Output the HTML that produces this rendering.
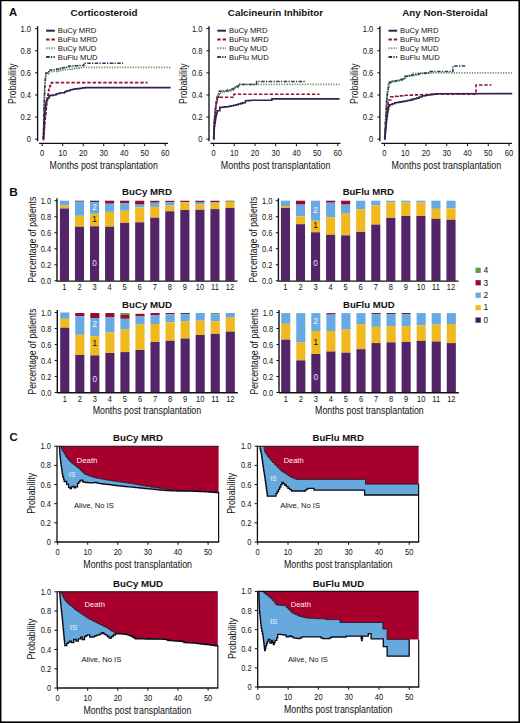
<!DOCTYPE html>
<html><head><meta charset="utf-8"><title>Figure</title>
<style>
html,body{margin:0;padding:0;background:#fff;}
body{width:520px;height:723px;overflow:hidden;}
svg{display:block;font-family:"Liberation Sans", sans-serif;}
</style></head><body>
<svg width="520" height="723" viewBox="0 0 520 723" font-family='"Liberation Sans", sans-serif'>
<rect x="0" y="0" width="520" height="723" fill="#fff"/>
<text x="9" y="15.6" font-size="11.3" font-weight="bold" fill="#111">A</text>
<text x="104.1" y="15.5" font-size="9.8" text-anchor="middle" font-weight="bold" fill="#111">Corticosteroid</text>
<line x1="37.6" y1="26.2" x2="37.6" y2="141.2" stroke="#111" stroke-width="1.35"/>
<line x1="35.0" y1="139.2" x2="37.6" y2="139.2" stroke="#111" stroke-width="1.0"/>
<text x="31.0" y="142.2" font-size="8.6" text-anchor="end" textLength="4.21" lengthAdjust="spacingAndGlyphs" fill="#111">0</text>
<line x1="35.0" y1="117.07999999999998" x2="37.6" y2="117.07999999999998" stroke="#111" stroke-width="1.0"/>
<text x="31.0" y="120.07999999999998" font-size="8.6" text-anchor="end" textLength="10.52" lengthAdjust="spacingAndGlyphs" fill="#111">0.2</text>
<line x1="35.0" y1="94.95999999999998" x2="37.6" y2="94.95999999999998" stroke="#111" stroke-width="1.0"/>
<text x="31.0" y="97.95999999999998" font-size="8.6" text-anchor="end" textLength="10.52" lengthAdjust="spacingAndGlyphs" fill="#111">0.4</text>
<line x1="35.0" y1="72.83999999999999" x2="37.6" y2="72.83999999999999" stroke="#111" stroke-width="1.0"/>
<text x="31.0" y="75.83999999999999" font-size="8.6" text-anchor="end" textLength="10.52" lengthAdjust="spacingAndGlyphs" fill="#111">0.6</text>
<line x1="35.0" y1="50.719999999999985" x2="37.6" y2="50.719999999999985" stroke="#111" stroke-width="1.0"/>
<text x="31.0" y="53.719999999999985" font-size="8.6" text-anchor="end" textLength="10.52" lengthAdjust="spacingAndGlyphs" fill="#111">0.8</text>
<line x1="35.0" y1="28.599999999999994" x2="37.6" y2="28.599999999999994" stroke="#111" stroke-width="1.0"/>
<text x="31.0" y="31.599999999999994" font-size="8.6" text-anchor="end" textLength="10.52" lengthAdjust="spacingAndGlyphs" fill="#111">1.0</text>
<line x1="39.1" y1="143.3" x2="168.0" y2="143.3" stroke="#111" stroke-width="1.35"/>
<line x1="42.2" y1="143.3" x2="42.2" y2="146.10000000000002" stroke="#111" stroke-width="1.0"/>
<text x="42.2" y="156.4" font-size="8.6" text-anchor="middle" textLength="4.21" lengthAdjust="spacingAndGlyphs" fill="#111">0</text>
<line x1="62.7" y1="143.3" x2="62.7" y2="146.10000000000002" stroke="#111" stroke-width="1.0"/>
<text x="62.7" y="156.4" font-size="8.6" text-anchor="middle" textLength="8.42" lengthAdjust="spacingAndGlyphs" fill="#111">10</text>
<line x1="83.2" y1="143.3" x2="83.2" y2="146.10000000000002" stroke="#111" stroke-width="1.0"/>
<text x="83.2" y="156.4" font-size="8.6" text-anchor="middle" textLength="8.42" lengthAdjust="spacingAndGlyphs" fill="#111">20</text>
<line x1="103.7" y1="143.3" x2="103.7" y2="146.10000000000002" stroke="#111" stroke-width="1.0"/>
<text x="103.7" y="156.4" font-size="8.6" text-anchor="middle" textLength="8.42" lengthAdjust="spacingAndGlyphs" fill="#111">30</text>
<line x1="124.2" y1="143.3" x2="124.2" y2="146.10000000000002" stroke="#111" stroke-width="1.0"/>
<text x="124.2" y="156.4" font-size="8.6" text-anchor="middle" textLength="8.42" lengthAdjust="spacingAndGlyphs" fill="#111">40</text>
<line x1="144.7" y1="143.3" x2="144.7" y2="146.10000000000002" stroke="#111" stroke-width="1.0"/>
<text x="144.7" y="156.4" font-size="8.6" text-anchor="middle" textLength="8.42" lengthAdjust="spacingAndGlyphs" fill="#111">50</text>
<line x1="165.2" y1="143.3" x2="165.2" y2="146.10000000000002" stroke="#111" stroke-width="1.0"/>
<text x="165.2" y="156.4" font-size="8.6" text-anchor="middle" textLength="8.42" lengthAdjust="spacingAndGlyphs" fill="#111">60</text>
<text x="103.7" y="168.9" font-size="10.0" text-anchor="middle" textLength="108.2" lengthAdjust="spacingAndGlyphs" fill="#111">Months post transplantation</text>
<text x="15.8" y="83.6" font-size="10.0" text-anchor="middle" textLength="40.6" lengthAdjust="spacingAndGlyphs" transform="rotate(-90 15.8 83.6)" fill="#111">Probability</text>
<text x="57.8" y="33.4" font-size="7.7" fill="#111">BuCy MRD</text>
<text x="57.8" y="42.150000000000006" font-size="7.7" fill="#111">BuFlu MRD</text>
<text x="57.8" y="50.900000000000006" font-size="7.7" fill="#111">BuCy MUD</text>
<text x="57.8" y="59.650000000000006" font-size="7.7" fill="#111">BuFlu MUD</text>
<text x="275.5" y="15.5" font-size="9.8" text-anchor="middle" font-weight="bold" fill="#111">Calcineurin Inhibitor</text>
<line x1="209.0" y1="26.2" x2="209.0" y2="141.2" stroke="#111" stroke-width="1.35"/>
<line x1="206.4" y1="139.2" x2="209.0" y2="139.2" stroke="#111" stroke-width="1.0"/>
<text x="202.4" y="142.2" font-size="8.6" text-anchor="end" textLength="4.21" lengthAdjust="spacingAndGlyphs" fill="#111">0</text>
<line x1="206.4" y1="117.07999999999998" x2="209.0" y2="117.07999999999998" stroke="#111" stroke-width="1.0"/>
<text x="202.4" y="120.07999999999998" font-size="8.6" text-anchor="end" textLength="10.52" lengthAdjust="spacingAndGlyphs" fill="#111">0.2</text>
<line x1="206.4" y1="94.95999999999998" x2="209.0" y2="94.95999999999998" stroke="#111" stroke-width="1.0"/>
<text x="202.4" y="97.95999999999998" font-size="8.6" text-anchor="end" textLength="10.52" lengthAdjust="spacingAndGlyphs" fill="#111">0.4</text>
<line x1="206.4" y1="72.83999999999999" x2="209.0" y2="72.83999999999999" stroke="#111" stroke-width="1.0"/>
<text x="202.4" y="75.83999999999999" font-size="8.6" text-anchor="end" textLength="10.52" lengthAdjust="spacingAndGlyphs" fill="#111">0.6</text>
<line x1="206.4" y1="50.719999999999985" x2="209.0" y2="50.719999999999985" stroke="#111" stroke-width="1.0"/>
<text x="202.4" y="53.719999999999985" font-size="8.6" text-anchor="end" textLength="10.52" lengthAdjust="spacingAndGlyphs" fill="#111">0.8</text>
<line x1="206.4" y1="28.599999999999994" x2="209.0" y2="28.599999999999994" stroke="#111" stroke-width="1.0"/>
<text x="202.4" y="31.599999999999994" font-size="8.6" text-anchor="end" textLength="10.52" lengthAdjust="spacingAndGlyphs" fill="#111">1.0</text>
<line x1="210.5" y1="143.3" x2="340.5" y2="143.3" stroke="#111" stroke-width="1.35"/>
<line x1="213.6" y1="143.3" x2="213.6" y2="146.10000000000002" stroke="#111" stroke-width="1.0"/>
<text x="213.6" y="156.4" font-size="8.6" text-anchor="middle" textLength="4.21" lengthAdjust="spacingAndGlyphs" fill="#111">0</text>
<line x1="234.29999999999998" y1="143.3" x2="234.29999999999998" y2="146.10000000000002" stroke="#111" stroke-width="1.0"/>
<text x="234.29999999999998" y="156.4" font-size="8.6" text-anchor="middle" textLength="8.42" lengthAdjust="spacingAndGlyphs" fill="#111">10</text>
<line x1="255.0" y1="143.3" x2="255.0" y2="146.10000000000002" stroke="#111" stroke-width="1.0"/>
<text x="255.0" y="156.4" font-size="8.6" text-anchor="middle" textLength="8.42" lengthAdjust="spacingAndGlyphs" fill="#111">20</text>
<line x1="275.7" y1="143.3" x2="275.7" y2="146.10000000000002" stroke="#111" stroke-width="1.0"/>
<text x="275.7" y="156.4" font-size="8.6" text-anchor="middle" textLength="8.42" lengthAdjust="spacingAndGlyphs" fill="#111">30</text>
<line x1="296.4" y1="143.3" x2="296.4" y2="146.10000000000002" stroke="#111" stroke-width="1.0"/>
<text x="296.4" y="156.4" font-size="8.6" text-anchor="middle" textLength="8.42" lengthAdjust="spacingAndGlyphs" fill="#111">40</text>
<line x1="317.1" y1="143.3" x2="317.1" y2="146.10000000000002" stroke="#111" stroke-width="1.0"/>
<text x="317.1" y="156.4" font-size="8.6" text-anchor="middle" textLength="8.42" lengthAdjust="spacingAndGlyphs" fill="#111">50</text>
<line x1="337.79999999999995" y1="143.3" x2="337.79999999999995" y2="146.10000000000002" stroke="#111" stroke-width="1.0"/>
<text x="337.79999999999995" y="156.4" font-size="8.6" text-anchor="middle" textLength="8.42" lengthAdjust="spacingAndGlyphs" fill="#111">60</text>
<text x="275.6" y="168.9" font-size="10.0" text-anchor="middle" textLength="109.6" lengthAdjust="spacingAndGlyphs" fill="#111">Months post transplantation</text>
<text x="187.2" y="83.6" font-size="10.0" text-anchor="middle" textLength="40.6" lengthAdjust="spacingAndGlyphs" transform="rotate(-90 187.2 83.6)" fill="#111">Probability</text>
<text x="229.0" y="33.4" font-size="7.7" fill="#111">BuCy MRD</text>
<text x="229.0" y="42.150000000000006" font-size="7.7" fill="#111">BuFlu MRD</text>
<text x="229.0" y="50.900000000000006" font-size="7.7" fill="#111">BuCy MUD</text>
<text x="229.0" y="59.650000000000006" font-size="7.7" fill="#111">BuFlu MUD</text>
<text x="445.0" y="15.5" font-size="9.8" text-anchor="middle" font-weight="bold" fill="#111">Any Non-Steroidal</text>
<line x1="379.9" y1="26.2" x2="379.9" y2="141.2" stroke="#111" stroke-width="1.35"/>
<line x1="377.29999999999995" y1="139.2" x2="379.9" y2="139.2" stroke="#111" stroke-width="1.0"/>
<text x="373.29999999999995" y="142.2" font-size="8.6" text-anchor="end" textLength="4.21" lengthAdjust="spacingAndGlyphs" fill="#111">0</text>
<line x1="377.29999999999995" y1="117.07999999999998" x2="379.9" y2="117.07999999999998" stroke="#111" stroke-width="1.0"/>
<text x="373.29999999999995" y="120.07999999999998" font-size="8.6" text-anchor="end" textLength="10.52" lengthAdjust="spacingAndGlyphs" fill="#111">0.2</text>
<line x1="377.29999999999995" y1="94.95999999999998" x2="379.9" y2="94.95999999999998" stroke="#111" stroke-width="1.0"/>
<text x="373.29999999999995" y="97.95999999999998" font-size="8.6" text-anchor="end" textLength="10.52" lengthAdjust="spacingAndGlyphs" fill="#111">0.4</text>
<line x1="377.29999999999995" y1="72.83999999999999" x2="379.9" y2="72.83999999999999" stroke="#111" stroke-width="1.0"/>
<text x="373.29999999999995" y="75.83999999999999" font-size="8.6" text-anchor="end" textLength="10.52" lengthAdjust="spacingAndGlyphs" fill="#111">0.6</text>
<line x1="377.29999999999995" y1="50.719999999999985" x2="379.9" y2="50.719999999999985" stroke="#111" stroke-width="1.0"/>
<text x="373.29999999999995" y="53.719999999999985" font-size="8.6" text-anchor="end" textLength="10.52" lengthAdjust="spacingAndGlyphs" fill="#111">0.8</text>
<line x1="377.29999999999995" y1="28.599999999999994" x2="379.9" y2="28.599999999999994" stroke="#111" stroke-width="1.0"/>
<text x="373.29999999999995" y="31.599999999999994" font-size="8.6" text-anchor="end" textLength="10.52" lengthAdjust="spacingAndGlyphs" fill="#111">1.0</text>
<line x1="381.4" y1="143.3" x2="511.9" y2="143.3" stroke="#111" stroke-width="1.35"/>
<line x1="384.4" y1="143.3" x2="384.4" y2="146.10000000000002" stroke="#111" stroke-width="1.0"/>
<text x="384.4" y="156.4" font-size="8.6" text-anchor="middle" textLength="4.21" lengthAdjust="spacingAndGlyphs" fill="#111">0</text>
<line x1="405.16999999999996" y1="143.3" x2="405.16999999999996" y2="146.10000000000002" stroke="#111" stroke-width="1.0"/>
<text x="405.16999999999996" y="156.4" font-size="8.6" text-anchor="middle" textLength="8.42" lengthAdjust="spacingAndGlyphs" fill="#111">10</text>
<line x1="425.94" y1="143.3" x2="425.94" y2="146.10000000000002" stroke="#111" stroke-width="1.0"/>
<text x="425.94" y="156.4" font-size="8.6" text-anchor="middle" textLength="8.42" lengthAdjust="spacingAndGlyphs" fill="#111">20</text>
<line x1="446.71" y1="143.3" x2="446.71" y2="146.10000000000002" stroke="#111" stroke-width="1.0"/>
<text x="446.71" y="156.4" font-size="8.6" text-anchor="middle" textLength="8.42" lengthAdjust="spacingAndGlyphs" fill="#111">30</text>
<line x1="467.47999999999996" y1="143.3" x2="467.47999999999996" y2="146.10000000000002" stroke="#111" stroke-width="1.0"/>
<text x="467.47999999999996" y="156.4" font-size="8.6" text-anchor="middle" textLength="8.42" lengthAdjust="spacingAndGlyphs" fill="#111">40</text>
<line x1="488.25" y1="143.3" x2="488.25" y2="146.10000000000002" stroke="#111" stroke-width="1.0"/>
<text x="488.25" y="156.4" font-size="8.6" text-anchor="middle" textLength="8.42" lengthAdjust="spacingAndGlyphs" fill="#111">50</text>
<line x1="509.02" y1="143.3" x2="509.02" y2="146.10000000000002" stroke="#111" stroke-width="1.0"/>
<text x="509.02" y="156.4" font-size="8.6" text-anchor="middle" textLength="8.42" lengthAdjust="spacingAndGlyphs" fill="#111">60</text>
<text x="446.4" y="168.9" font-size="10.0" text-anchor="middle" textLength="109.6" lengthAdjust="spacingAndGlyphs" fill="#111">Months post transplantation</text>
<text x="358.09999999999997" y="83.6" font-size="10.0" text-anchor="middle" textLength="40.6" lengthAdjust="spacingAndGlyphs" transform="rotate(-90 358.09999999999997 83.6)" fill="#111">Probability</text>
<text x="400.0" y="33.4" font-size="7.7" fill="#111">BuCy MRD</text>
<text x="400.0" y="42.150000000000006" font-size="7.7" fill="#111">BuFlu MRD</text>
<text x="400.0" y="50.900000000000006" font-size="7.7" fill="#111">BuCy MUD</text>
<text x="400.0" y="59.650000000000006" font-size="7.7" fill="#111">BuFlu MUD</text>
<polyline points="46.1,30.7 54.8,30.7" fill="none" stroke="#33214f" stroke-width="2.0" stroke-linejoin="miter"/>
<polyline points="46.1,39.5 54.8,39.5" fill="none" stroke="#8e1535" stroke-width="2.0" stroke-dasharray="3.4,1.9" stroke-linejoin="miter"/>
<polyline points="46.1,48.2 54.8,48.2" fill="none" stroke="#769860" stroke-width="2.1" stroke-dasharray="1.3,1.3" stroke-linejoin="miter"/>
<polyline points="46.1,57.0 54.8,57.0" fill="none" stroke="#263a55" stroke-width="1.9" stroke-dasharray="3.6,1.2,1.3,1.4" stroke-linejoin="miter"/>
<polyline points="217.3,30.7 226.0,30.7" fill="none" stroke="#33214f" stroke-width="2.0" stroke-linejoin="miter"/>
<polyline points="217.3,39.5 226.0,39.5" fill="none" stroke="#8e1535" stroke-width="2.0" stroke-dasharray="3.4,1.9" stroke-linejoin="miter"/>
<polyline points="217.3,48.2 226.0,48.2" fill="none" stroke="#769860" stroke-width="2.1" stroke-dasharray="1.3,1.3" stroke-linejoin="miter"/>
<polyline points="217.3,57.0 226.0,57.0" fill="none" stroke="#263a55" stroke-width="1.9" stroke-dasharray="3.6,1.2,1.3,1.4" stroke-linejoin="miter"/>
<polyline points="388.5,30.7 397.2,30.7" fill="none" stroke="#33214f" stroke-width="2.0" stroke-linejoin="miter"/>
<polyline points="388.5,39.5 397.2,39.5" fill="none" stroke="#8e1535" stroke-width="2.0" stroke-dasharray="3.4,1.9" stroke-linejoin="miter"/>
<polyline points="388.5,48.2 397.2,48.2" fill="none" stroke="#769860" stroke-width="2.1" stroke-dasharray="1.3,1.3" stroke-linejoin="miter"/>
<polyline points="388.5,57.0 397.2,57.0" fill="none" stroke="#263a55" stroke-width="1.9" stroke-dasharray="3.6,1.2,1.3,1.4" stroke-linejoin="miter"/>
<polyline points="43.4,139.4 43.4,139.4 43.4,137.0 43.5,137.0 43.5,134.5 43.5,134.5 43.5,132.1 43.6,132.1 43.6,129.6 43.6,129.6 43.6,127.2 43.7,127.2 43.7,124.7 43.8,124.7 43.8,122.2 43.8,122.2 43.8,119.8 43.9,119.8 43.9,117.4 43.9,117.4 43.9,114.9 44.0,114.9 44.0,112.5 44.0,112.5 44.0,110.0 44.1,110.0 44.1,107.5 44.2,107.5 44.2,104.9 44.3,104.9 44.3,102.4 44.4,102.4 44.4,99.8 44.5,99.8 44.5,97.3 44.5,97.3 44.5,94.7 44.6,94.7 44.6,92.2 44.7,92.2 44.7,89.6 44.8,89.6 44.8,87.1 44.9,87.1 44.9,84.5 45.0,84.5 45.0,82.0 45.3,82.0 45.3,79.4 45.5,79.4 45.5,76.8 45.8,76.8 45.8,74.2 48.7,74.2 48.7,71.8 50.8,71.8 50.8,71.6 52.9,71.6 52.9,71.5 55.0,71.5 55.0,71.3 56.9,71.3 56.9,70.9 58.9,70.9 58.9,70.5 60.8,70.5 60.8,70.1 62.7,70.1 62.7,69.9 64.6,69.9 64.6,69.7 66.5,69.7 66.5,69.5 68.5,69.5 68.5,69.2 70.5,69.2 70.5,69.0 72.6,69.0 72.6,68.7 74.6,68.7 74.6,68.4 76.9,68.4 76.9,68.1 79.2,68.1 79.2,67.7 81.5,67.7 81.5,67.4 170.7,67.4" fill="none" stroke="#769860" stroke-width="1.7" stroke-dasharray="1.3,1.3" stroke-linejoin="miter"/>
<polyline points="43.4,139.4 43.4,139.4 43.4,136.9 43.5,136.9 43.5,134.5 43.5,134.5 43.5,132.0 43.6,132.0 43.6,129.6 43.6,129.6 43.6,127.1 43.7,127.1 43.7,124.7 43.7,124.7 43.7,122.2 43.7,122.2 43.7,119.7 43.8,119.7 43.8,117.3 43.8,117.3 43.8,114.8 43.9,114.8 43.9,112.4 43.9,112.4 43.9,109.9 44.0,109.9 44.0,107.5 44.0,107.5 44.0,105.0 44.1,105.0 44.1,102.4 44.2,102.4 44.2,99.9 44.3,99.9 44.3,97.3 44.4,97.3 44.4,94.8 44.6,94.8 44.6,92.2 44.7,92.2 44.7,89.7 44.8,89.7 44.8,87.1 44.9,87.1 44.9,84.6 45.0,84.6 45.0,82.0 45.2,82.0 45.2,79.8 45.4,79.8 45.4,77.5 45.6,77.5 45.6,75.2 45.8,75.2 45.8,73.0 48.7,73.0 48.7,70.1 50.8,70.1 50.8,69.9 52.9,69.9 52.9,69.7 55.0,69.7 55.0,69.5 56.8,69.5 56.8,69.0 58.5,69.0 58.5,68.4 60.5,68.4 60.5,68.1 62.5,68.1 62.5,67.8 64.5,67.8 64.5,67.5 66.5,67.5 66.5,67.2 68.8,67.2 68.8,66.1 70.9,66.1 70.9,66.0 73.0,66.0 73.0,65.9 75.2,65.9 75.2,65.8 77.3,65.8 77.3,65.7 79.4,65.7 79.4,65.6 81.5,65.6 81.5,65.5 83.8,65.5 83.8,63.2 123.1,63.2" fill="none" stroke="#263a55" stroke-width="1.5" stroke-dasharray="3.6,1.2,1.3,1.4" stroke-linejoin="miter"/>
<polyline points="43.4,139.4 43.6,139.4 43.6,137.0 43.8,137.0 43.8,134.6 44.0,134.6 44.0,132.1 44.2,132.1 44.2,129.7 44.4,129.7 44.4,127.3 44.6,127.3 44.6,124.8 44.8,124.8 44.8,122.4 45.0,122.4 45.0,120.0 45.2,120.0 45.2,117.5 45.5,117.5 45.5,115.0 45.8,115.0 45.8,112.5 46.0,112.5 46.0,110.0 46.2,110.0 46.2,107.5 46.5,107.5 46.5,105.0 46.8,105.0 46.8,102.5 47.0,102.5 47.0,100.0 47.4,100.0 47.4,97.6 47.8,97.6 47.8,95.2 48.2,95.2 48.2,92.8 48.6,92.8 48.6,90.4 49.0,90.4 49.0,88.0 49.8,88.0 49.8,86.0 50.5,86.0 50.5,84.0 51.5,84.0 51.5,82.6 147.6,82.6" fill="none" stroke="#8e1535" stroke-width="1.6" stroke-dasharray="3.4,1.9" stroke-linejoin="miter"/>
<polyline points="43.2,139.4 43.3,139.4 43.3,137.0 43.5,137.0 43.5,134.6 43.6,134.6 43.6,132.2 43.7,132.2 43.7,129.8 43.9,129.8 43.9,127.4 44.0,127.4 44.0,125.0 44.2,125.0 44.2,122.5 44.3,122.5 44.3,120.0 44.5,120.0 44.5,117.5 44.7,117.5 44.7,115.0 44.8,115.0 44.8,112.5 45.0,112.5 45.0,110.0 45.3,110.0 45.3,107.3 45.7,107.3 45.7,104.7 46.0,104.7 46.0,102.0 46.7,102.0 46.7,100.0 47.4,100.0 47.4,98.1 49.0,98.1 49.0,96.0 50.0,96.0 50.0,95.4 53.0,95.4 53.0,95.0 56.0,95.0 56.0,94.0 58.0,94.0 58.0,93.5 60.0,93.5 60.0,93.0 63.0,92.7 65.0,92.7 65.0,91.5 67.0,91.5 67.0,90.7 70.0,90.7 70.0,89.8 72.5,89.8 72.5,89.3 75.0,89.3 75.0,88.9 77.5,88.9 77.5,88.6 80.0,88.6 80.0,88.2 82.5,88.2 82.5,87.9 85.0,87.9 85.0,87.6 170.7,87.6" fill="none" stroke="#33214f" stroke-width="1.6" stroke-linejoin="miter"/>
<polyline points="213.6,139.0 213.7,139.0 213.7,136.6 213.8,136.6 213.8,134.1 213.9,134.1 213.9,131.7 214.0,131.7 214.0,129.2 214.1,129.2 214.1,126.8 214.2,126.8 214.2,124.4 214.3,124.4 214.3,121.9 214.4,121.9 214.4,119.5 214.6,119.5 214.6,117.1 214.9,117.1 214.9,114.7 215.1,114.7 215.1,112.2 215.3,112.2 215.3,109.8 215.6,109.8 215.6,107.4 215.8,107.4 215.8,105.0 216.2,105.0 216.2,102.6 216.7,102.6 216.7,100.2 217.1,100.2 217.1,97.8 217.8,97.8 217.8,95.5 218.5,95.5 218.5,93.3 219.0,93.1 221.4,93.1 221.4,92.5 223.8,92.5 223.8,91.9 226.2,91.9 226.2,91.4 228.6,91.4 228.6,90.8 231.0,90.8 231.0,90.2 233.2,90.2 233.2,88.8 235.4,88.8 235.4,87.3 237.7,87.3 237.7,85.6 240.0,85.6 240.0,84.4 339.6,84.4" fill="none" stroke="#769860" stroke-width="1.7" stroke-dasharray="1.3,1.3" stroke-linejoin="miter"/>
<polyline points="213.6,139.0 213.7,139.0 213.7,136.5 213.8,136.5 213.8,133.9 213.9,133.9 213.9,131.4 214.0,131.4 214.0,128.9 214.1,128.9 214.1,126.4 214.2,126.4 214.2,123.8 214.3,123.8 214.3,121.3 214.4,121.3 214.4,118.8 214.6,118.8 214.6,116.3 214.9,116.3 214.9,113.9 215.1,113.9 215.1,111.4 215.3,111.4 215.3,108.9 215.6,108.9 215.6,106.5 215.8,106.5 215.8,104.0 216.2,104.0 216.2,101.8 216.7,101.8 216.7,99.5 217.1,99.5 217.1,97.3 218.7,97.3 218.7,94.2 219.2,94.2 219.2,91.3 221.1,91.3 221.1,91.1 223.1,91.1 223.1,91.0 225.0,91.0 225.0,90.8 227.6,90.8 227.6,89.9 230.2,89.9 230.2,89.0 233.0,89.0 233.0,88.5 235.1,88.5 235.1,87.3 237.1,87.3 237.1,86.1 239.4,86.1 239.4,84.4 256.6,84.4 256.6,81.5 305.3,81.5" fill="none" stroke="#263a55" stroke-width="1.5" stroke-dasharray="3.6,1.2,1.3,1.4" stroke-linejoin="miter"/>
<polyline points="213.6,139.0 213.7,139.0 213.7,136.5 213.8,136.5 213.8,134.0 213.9,134.0 213.9,131.5 214.1,131.5 214.1,129.0 214.2,129.0 214.2,126.5 214.3,126.5 214.3,124.0 214.4,124.0 214.4,121.5 214.6,121.5 214.6,118.8 214.9,118.8 214.9,116.1 215.1,116.1 215.1,113.5 215.3,113.5 215.3,110.8 215.6,110.8 215.6,108.1 215.8,108.1 215.8,105.4 216.2,105.4 216.2,102.7 216.7,102.7 216.7,100.0 217.1,100.0 217.1,97.3 233.9,97.3 233.9,94.3 319.6,94.3" fill="none" stroke="#8e1535" stroke-width="1.6" stroke-dasharray="3.4,1.9" stroke-linejoin="miter"/>
<polyline points="213.6,139.0 213.8,139.0 213.8,136.3 213.9,136.3 213.9,133.6 214.1,133.6 214.1,131.0 214.2,131.0 214.2,128.3 214.4,128.3 214.4,125.6 214.8,125.6 214.8,123.2 215.1,123.2 215.1,120.8 215.5,120.8 215.5,118.5 215.8,118.5 215.8,116.1 216.4,116.1 216.4,113.4 217.1,113.4 217.1,110.8 219.8,110.8 219.8,107.4 222.0,107.4 222.0,107.2 224.3,107.2 224.3,106.9 226.5,106.9 226.5,106.7 228.9,106.7 228.9,106.2 231.2,106.2 231.2,105.7 233.6,105.7 233.6,105.2 236.0,105.2 236.0,104.7 238.2,104.7 238.2,104.0 240.5,104.0 240.5,103.4 242.7,103.4 242.7,102.7 245.4,102.7 245.4,100.7 247.4,100.7 247.4,100.6 249.4,100.6 249.4,100.5 251.5,100.5 251.5,100.3 253.5,100.3 253.5,100.2 271.9,100.2 271.9,98.9 339.6,98.9" fill="none" stroke="#33214f" stroke-width="1.6" stroke-linejoin="miter"/>
<polyline points="384.6,139.0 384.7,139.0 384.7,136.7 384.8,136.7 384.8,134.3 385.0,134.3 385.0,132.0 385.1,132.0 385.1,129.7 385.2,129.7 385.2,127.3 385.3,127.3 385.3,125.0 385.4,125.0 385.4,122.4 385.6,122.4 385.6,119.8 385.7,119.8 385.7,117.2 385.9,117.2 385.9,114.6 386.0,114.6 386.0,112.0 386.2,112.0 386.2,109.6 386.3,109.6 386.3,107.2 386.5,107.2 386.5,104.8 386.6,104.8 386.6,102.4 386.8,102.4 386.8,100.0 387.1,100.0 387.1,97.3 387.3,97.3 387.3,94.7 387.6,94.7 387.6,92.0 388.1,92.0 388.1,89.0 388.5,89.0 388.5,86.0 389.5,86.0 389.5,83.0 391.2,83.0 391.2,82.2 393.0,82.2 393.0,81.5 395.0,81.5 395.0,81.2 397.0,81.2 397.0,80.8 399.0,80.8 399.0,80.5 402.0,80.5 402.0,79.0 404.8,79.0 404.8,76.0 406.9,76.0 406.9,75.8 408.9,75.8 408.9,75.7 411.0,75.7 411.0,75.5 412.8,75.5 412.8,73.5 414.7,73.5 414.7,73.3 416.7,73.3 416.7,73.0 418.6,73.0 418.6,72.8 512.2,72.8" fill="none" stroke="#769860" stroke-width="1.7" stroke-dasharray="1.3,1.3" stroke-linejoin="miter"/>
<polyline points="384.6,139.0 384.7,139.0 384.7,136.3 384.8,136.3 384.8,133.7 385.0,133.7 385.0,131.0 385.1,131.0 385.1,128.3 385.2,128.3 385.2,125.7 385.3,125.7 385.3,123.0 385.4,123.0 385.4,120.4 385.6,120.4 385.6,117.8 385.7,117.8 385.7,115.2 385.9,115.2 385.9,112.6 386.0,112.6 386.0,110.0 386.2,110.0 386.2,107.6 386.3,107.6 386.3,105.2 386.5,105.2 386.5,102.8 386.6,102.8 386.6,100.4 386.8,100.4 386.8,98.0 387.1,98.0 387.1,95.3 387.3,95.3 387.3,92.7 387.6,92.7 387.6,90.0 388.1,90.0 388.1,87.2 388.5,87.2 388.5,84.5 389.5,84.5 389.5,82.0 392.1,82.0 392.1,81.3 394.4,81.3 394.4,80.9 396.7,80.9 396.7,80.6 399.0,80.6 399.0,80.2 401.0,80.2 401.0,79.3 403.0,79.3 403.0,78.5 404.8,78.5 404.8,76.5 407.1,76.5 407.1,76.0 409.4,76.0 409.4,75.5 411.7,75.5 411.7,75.0 414.0,75.0 414.0,74.7 416.3,74.7 416.3,74.4 418.6,74.4 418.6,73.8 420.7,73.8 420.7,73.6 422.8,73.6 422.8,73.4 424.8,73.4 424.8,73.1 426.9,73.1 426.9,72.9 429.0,72.9 429.0,72.7 430.1,72.7 430.1,71.5 452.9,71.5 452.9,66.1 465.2,66.1" fill="none" stroke="#263a55" stroke-width="1.5" stroke-dasharray="3.6,1.2,1.3,1.4" stroke-linejoin="miter"/>
<polyline points="384.6,139.0 384.8,139.0 384.8,136.2 385.1,136.2 385.1,133.5 385.3,133.5 385.3,130.8 385.5,130.8 385.5,128.0 385.8,128.0 385.8,125.2 386.0,125.2 386.0,122.5 386.2,122.5 386.2,119.8 386.5,119.8 386.5,117.0 386.8,117.0 386.8,114.5 387.0,114.5 387.0,112.0 387.2,112.0 387.2,109.5 387.5,109.5 387.5,107.0 387.8,107.0 387.8,104.7 388.2,104.7 388.2,102.3 388.5,102.3 388.5,100.0 390.8,100.0 390.8,96.7 393.2,96.7 393.2,96.4 395.6,96.4 395.6,96.2 398.1,96.2 398.1,95.9 400.5,95.9 400.5,95.7 402.9,95.7 402.9,95.4 405.1,95.4 405.1,95.3 407.3,95.3 407.3,95.2 409.5,95.2 409.5,95.1 411.6,95.1 411.6,95.1 413.8,95.1 413.8,95.0 416.0,95.0 416.0,94.9 418.2,94.9 418.2,94.8 420.4,94.8 420.4,94.7 422.4,94.7 422.4,94.6 424.4,94.6 424.4,94.5 426.4,94.5 426.4,94.5 428.5,94.5 428.5,94.4 430.5,94.4 430.5,94.3 432.5,94.3 432.5,94.2 476.0,94.2 476.0,85.0 491.4,85.0" fill="none" stroke="#8e1535" stroke-width="1.6" stroke-dasharray="3.4,1.9" stroke-linejoin="miter"/>
<polyline points="384.6,139.0 384.8,139.0 384.8,136.8 385.1,136.8 385.1,134.5 385.3,134.5 385.3,132.2 385.5,132.2 385.5,130.0 385.8,130.0 385.8,127.5 386.0,127.5 386.0,125.0 386.2,125.0 386.2,122.5 386.5,122.5 386.5,120.0 386.8,120.0 386.8,117.3 387.2,117.3 387.2,114.7 387.5,114.7 387.5,112.0 388.0,112.0 388.0,109.2 388.5,109.2 388.5,106.5 389.5,106.5 389.5,104.8 392.1,104.8 392.1,103.8 394.8,103.8 394.8,102.8 396.8,102.8 396.8,102.5 398.9,102.5 398.9,102.1 400.9,102.1 400.9,101.8 402.9,101.8 402.9,101.4 405.1,101.4 405.1,101.0 407.4,101.0 407.4,100.5 409.6,100.5 409.6,100.1 411.9,100.1 411.9,99.4 414.1,99.4 414.1,98.8 416.4,98.8 416.4,98.1 419.1,98.1 419.1,97.0 421.8,97.0 421.8,96.0 423.8,96.0 423.8,95.7 425.8,95.7 425.8,95.3 427.8,95.3 427.8,95.0 429.8,95.0 429.8,94.7 431.9,94.7 431.9,94.4 433.9,94.4 433.9,94.1 436.0,94.1 436.0,93.8 512.2,93.6" fill="none" stroke="#33214f" stroke-width="1.6" stroke-linejoin="miter"/>
<text x="9.3" y="195.5" font-size="11.8" font-weight="bold" fill="#111">B</text>
<text x="147.1" y="195.0" font-size="9.7" text-anchor="middle" font-weight="bold" textLength="50" lengthAdjust="spacingAndGlyphs" fill="#111">BuCy MRD</text>
<rect x="59.90" y="200.70" width="9.10" height="4.90" fill="#67a9e2"/>
<rect x="59.90" y="205.60" width="9.10" height="2.90" fill="#efb91f"/>
<rect x="59.90" y="208.50" width="9.10" height="72.30" fill="#532468"/>
<text x="64.45" y="290.40000000000003" font-size="8.6" text-anchor="middle" textLength="4.16" lengthAdjust="spacingAndGlyphs" fill="#111">1</text>
<rect x="74.95" y="200.70" width="9.10" height="1.00" fill="#4a2a5a"/>
<rect x="74.95" y="201.70" width="9.10" height="14.10" fill="#67a9e2"/>
<rect x="74.95" y="215.80" width="9.10" height="10.90" fill="#efb91f"/>
<rect x="74.95" y="226.70" width="9.10" height="54.10" fill="#532468"/>
<text x="79.5" y="290.40000000000003" font-size="8.6" text-anchor="middle" textLength="4.16" lengthAdjust="spacingAndGlyphs" fill="#111">2</text>
<rect x="90.00" y="200.70" width="9.10" height="1.60" fill="#4a2a5a"/>
<rect x="90.00" y="202.30" width="9.10" height="11.50" fill="#67a9e2"/>
<rect x="90.00" y="213.80" width="9.10" height="12.50" fill="#efb91f"/>
<rect x="90.00" y="226.30" width="9.10" height="54.50" fill="#532468"/>
<text x="94.55" y="290.40000000000003" font-size="8.6" text-anchor="middle" textLength="4.16" lengthAdjust="spacingAndGlyphs" fill="#111">3</text>
<rect x="105.05" y="200.70" width="9.10" height="3.00" fill="#960c30"/>
<rect x="105.05" y="203.70" width="9.10" height="8.20" fill="#67a9e2"/>
<rect x="105.05" y="211.90" width="9.10" height="14.80" fill="#efb91f"/>
<rect x="105.05" y="226.70" width="9.10" height="54.10" fill="#532468"/>
<text x="109.60000000000001" y="290.40000000000003" font-size="8.6" text-anchor="middle" textLength="4.16" lengthAdjust="spacingAndGlyphs" fill="#111">4</text>
<rect x="120.10" y="200.70" width="9.10" height="2.40" fill="#960c30"/>
<rect x="120.10" y="203.10" width="9.10" height="7.70" fill="#67a9e2"/>
<rect x="120.10" y="210.80" width="9.10" height="12.10" fill="#efb91f"/>
<rect x="120.10" y="222.90" width="9.10" height="57.90" fill="#532468"/>
<text x="124.64999999999999" y="290.40000000000003" font-size="8.6" text-anchor="middle" textLength="4.16" lengthAdjust="spacingAndGlyphs" fill="#111">5</text>
<rect x="135.15" y="200.70" width="9.10" height="3.90" fill="#960c30"/>
<rect x="135.15" y="204.60" width="9.10" height="2.90" fill="#67a9e2"/>
<rect x="135.15" y="207.50" width="9.10" height="14.80" fill="#efb91f"/>
<rect x="135.15" y="222.30" width="9.10" height="58.50" fill="#532468"/>
<text x="139.70000000000002" y="290.40000000000003" font-size="8.6" text-anchor="middle" textLength="4.16" lengthAdjust="spacingAndGlyphs" fill="#111">6</text>
<rect x="150.20" y="200.80" width="9.10" height="1.90" fill="#960c30"/>
<rect x="150.20" y="202.70" width="9.10" height="4.20" fill="#67a9e2"/>
<rect x="150.20" y="206.90" width="9.10" height="10.80" fill="#efb91f"/>
<rect x="150.20" y="217.70" width="9.10" height="63.10" fill="#532468"/>
<text x="154.75000000000003" y="290.40000000000003" font-size="8.6" text-anchor="middle" textLength="4.16" lengthAdjust="spacingAndGlyphs" fill="#111">7</text>
<rect x="165.25" y="200.80" width="9.10" height="1.50" fill="#960c30"/>
<rect x="165.25" y="202.30" width="9.10" height="3.30" fill="#67a9e2"/>
<rect x="165.25" y="205.60" width="9.10" height="5.70" fill="#efb91f"/>
<rect x="165.25" y="211.30" width="9.10" height="69.50" fill="#532468"/>
<text x="169.8" y="290.40000000000003" font-size="8.6" text-anchor="middle" textLength="4.16" lengthAdjust="spacingAndGlyphs" fill="#111">8</text>
<rect x="180.30" y="200.75" width="9.10" height="1.25" fill="#960c30"/>
<rect x="180.30" y="202.00" width="9.10" height="0.50" fill="#67a9e2"/>
<rect x="180.30" y="202.50" width="9.10" height="7.50" fill="#efb91f"/>
<rect x="180.30" y="210.00" width="9.10" height="70.80" fill="#532468"/>
<text x="184.85000000000002" y="290.40000000000003" font-size="8.6" text-anchor="middle" textLength="4.16" lengthAdjust="spacingAndGlyphs" fill="#111">9</text>
<rect x="195.35" y="200.75" width="9.10" height="1.25" fill="#960c30"/>
<rect x="195.35" y="202.00" width="9.10" height="2.10" fill="#67a9e2"/>
<rect x="195.35" y="204.10" width="9.10" height="0.40" fill="#5c9e3e"/>
<rect x="195.35" y="204.50" width="9.10" height="5.25" fill="#efb91f"/>
<rect x="195.35" y="209.75" width="9.10" height="71.05" fill="#532468"/>
<text x="199.90000000000003" y="290.40000000000003" font-size="8.6" text-anchor="middle" textLength="8.32" lengthAdjust="spacingAndGlyphs" fill="#111">10</text>
<rect x="210.40" y="200.75" width="9.10" height="1.25" fill="#960c30"/>
<rect x="210.40" y="202.00" width="9.10" height="0.90" fill="#67a9e2"/>
<rect x="210.40" y="202.90" width="9.10" height="6.20" fill="#efb91f"/>
<rect x="210.40" y="209.10" width="9.10" height="71.70" fill="#532468"/>
<text x="214.95000000000002" y="290.40000000000003" font-size="8.6" text-anchor="middle" textLength="7.77" lengthAdjust="spacingAndGlyphs" fill="#111">11</text>
<rect x="225.45" y="200.75" width="9.10" height="0.85" fill="#4a2a5a"/>
<rect x="225.45" y="201.60" width="9.10" height="6.30" fill="#efb91f"/>
<rect x="225.45" y="207.90" width="9.10" height="72.90" fill="#532468"/>
<text x="230.00000000000003" y="290.40000000000003" font-size="8.6" text-anchor="middle" textLength="8.32" lengthAdjust="spacingAndGlyphs" fill="#111">12</text>
<text x="94.55" y="210.0" font-size="8.2" text-anchor="middle" fill="#f4f8ff">2</text>
<text x="94.55" y="222.0" font-size="8.2" text-anchor="middle" fill="#111">1</text>
<text x="94.55" y="266.0" font-size="8.2" text-anchor="middle" fill="#e8e0f0">0</text>
<line x1="57.0" y1="198.2" x2="57.0" y2="281.40000000000003" stroke="#111" stroke-width="1.4"/>
<line x1="54.4" y1="280.8" x2="57.0" y2="280.8" stroke="#111" stroke-width="1.0"/>
<text x="51.1" y="283.8" font-size="8.6" text-anchor="end" textLength="10.4" lengthAdjust="spacingAndGlyphs" fill="#111">0.0</text>
<line x1="54.4" y1="264.78000000000003" x2="57.0" y2="264.78000000000003" stroke="#111" stroke-width="1.0"/>
<text x="51.1" y="267.78000000000003" font-size="8.6" text-anchor="end" textLength="10.4" lengthAdjust="spacingAndGlyphs" fill="#111">0.2</text>
<line x1="54.4" y1="248.76" x2="57.0" y2="248.76" stroke="#111" stroke-width="1.0"/>
<text x="51.1" y="251.76" font-size="8.6" text-anchor="end" textLength="10.4" lengthAdjust="spacingAndGlyphs" fill="#111">0.4</text>
<line x1="54.4" y1="232.73999999999998" x2="57.0" y2="232.73999999999998" stroke="#111" stroke-width="1.0"/>
<text x="51.1" y="235.73999999999998" font-size="8.6" text-anchor="end" textLength="10.4" lengthAdjust="spacingAndGlyphs" fill="#111">0.6</text>
<line x1="54.4" y1="216.71999999999997" x2="57.0" y2="216.71999999999997" stroke="#111" stroke-width="1.0"/>
<text x="51.1" y="219.71999999999997" font-size="8.6" text-anchor="end" textLength="10.4" lengthAdjust="spacingAndGlyphs" fill="#111">0.8</text>
<line x1="54.4" y1="200.7" x2="57.0" y2="200.7" stroke="#111" stroke-width="1.0"/>
<text x="51.1" y="203.7" font-size="8.6" text-anchor="end" textLength="10.4" lengthAdjust="spacingAndGlyphs" fill="#111">1.0</text>
<line x1="57.0" y1="281.1" x2="237.55" y2="281.1" stroke="#111" stroke-width="1.4"/>
<text x="36.0" y="239.75" font-size="10.4" text-anchor="middle" textLength="86" lengthAdjust="spacingAndGlyphs" transform="rotate(-90 36.0 239.75)" fill="#111">Percentage of patients</text>
<text x="368.3" y="195.0" font-size="9.7" text-anchor="middle" font-weight="bold" textLength="51.3" lengthAdjust="spacingAndGlyphs" fill="#111">BuFlu MRD</text>
<rect x="280.90" y="200.70" width="9.10" height="5.30" fill="#67a9e2"/>
<rect x="280.90" y="206.00" width="9.10" height="1.90" fill="#efb91f"/>
<rect x="280.90" y="207.90" width="9.10" height="72.90" fill="#532468"/>
<text x="285.45" y="290.40000000000003" font-size="8.6" text-anchor="middle" textLength="4.16" lengthAdjust="spacingAndGlyphs" fill="#111">1</text>
<rect x="295.95" y="200.70" width="9.10" height="3.90" fill="#960c30"/>
<rect x="295.95" y="204.60" width="9.10" height="11.90" fill="#67a9e2"/>
<rect x="295.95" y="216.50" width="9.10" height="7.70" fill="#efb91f"/>
<rect x="295.95" y="224.20" width="9.10" height="56.60" fill="#532468"/>
<text x="300.5" y="290.40000000000003" font-size="8.6" text-anchor="middle" textLength="4.16" lengthAdjust="spacingAndGlyphs" fill="#111">2</text>
<rect x="311.00" y="200.70" width="9.10" height="20.10" fill="#67a9e2"/>
<rect x="311.00" y="220.80" width="9.10" height="11.50" fill="#efb91f"/>
<rect x="311.00" y="232.30" width="9.10" height="48.50" fill="#532468"/>
<text x="315.55" y="290.40000000000003" font-size="8.6" text-anchor="middle" textLength="4.16" lengthAdjust="spacingAndGlyphs" fill="#111">3</text>
<rect x="326.05" y="200.70" width="9.10" height="2.00" fill="#960c30"/>
<rect x="326.05" y="202.70" width="9.10" height="14.80" fill="#67a9e2"/>
<rect x="326.05" y="217.50" width="9.10" height="17.30" fill="#efb91f"/>
<rect x="326.05" y="234.80" width="9.10" height="46.00" fill="#532468"/>
<text x="330.59999999999997" y="290.40000000000003" font-size="8.6" text-anchor="middle" textLength="4.16" lengthAdjust="spacingAndGlyphs" fill="#111">4</text>
<rect x="341.10" y="200.70" width="9.10" height="3.90" fill="#960c30"/>
<rect x="341.10" y="204.60" width="9.10" height="9.10" fill="#67a9e2"/>
<rect x="341.10" y="213.70" width="9.10" height="21.70" fill="#efb91f"/>
<rect x="341.10" y="235.40" width="9.10" height="45.40" fill="#532468"/>
<text x="345.65" y="290.40000000000003" font-size="8.6" text-anchor="middle" textLength="4.16" lengthAdjust="spacingAndGlyphs" fill="#111">5</text>
<rect x="356.15" y="200.70" width="9.10" height="8.50" fill="#67a9e2"/>
<rect x="356.15" y="209.20" width="9.10" height="22.70" fill="#efb91f"/>
<rect x="356.15" y="231.90" width="9.10" height="48.90" fill="#532468"/>
<text x="360.7" y="290.40000000000003" font-size="8.6" text-anchor="middle" textLength="4.16" lengthAdjust="spacingAndGlyphs" fill="#111">6</text>
<rect x="371.20" y="200.70" width="9.10" height="4.70" fill="#67a9e2"/>
<rect x="371.20" y="205.40" width="9.10" height="19.20" fill="#efb91f"/>
<rect x="371.20" y="224.60" width="9.10" height="56.20" fill="#532468"/>
<text x="375.75" y="290.40000000000003" font-size="8.6" text-anchor="middle" textLength="4.16" lengthAdjust="spacingAndGlyphs" fill="#111">7</text>
<rect x="386.25" y="200.70" width="9.10" height="1.80" fill="#67a9e2"/>
<rect x="386.25" y="202.50" width="9.10" height="15.40" fill="#efb91f"/>
<rect x="386.25" y="217.90" width="9.10" height="62.90" fill="#532468"/>
<text x="390.8" y="290.40000000000003" font-size="8.6" text-anchor="middle" textLength="4.16" lengthAdjust="spacingAndGlyphs" fill="#111">8</text>
<rect x="401.30" y="200.70" width="9.10" height="1.80" fill="#67a9e2"/>
<rect x="401.30" y="202.50" width="9.10" height="13.50" fill="#efb91f"/>
<rect x="401.30" y="216.00" width="9.10" height="64.80" fill="#532468"/>
<text x="405.84999999999997" y="290.40000000000003" font-size="8.6" text-anchor="middle" textLength="4.16" lengthAdjust="spacingAndGlyphs" fill="#111">9</text>
<rect x="416.35" y="200.70" width="9.10" height="1.80" fill="#67a9e2"/>
<rect x="416.35" y="202.50" width="9.10" height="13.50" fill="#efb91f"/>
<rect x="416.35" y="216.00" width="9.10" height="64.80" fill="#532468"/>
<text x="420.90000000000003" y="290.40000000000003" font-size="8.6" text-anchor="middle" textLength="8.32" lengthAdjust="spacingAndGlyphs" fill="#111">10</text>
<rect x="431.40" y="200.70" width="9.10" height="8.10" fill="#67a9e2"/>
<rect x="431.40" y="208.80" width="9.10" height="10.00" fill="#efb91f"/>
<rect x="431.40" y="218.80" width="9.10" height="62.00" fill="#532468"/>
<text x="435.95" y="290.40000000000003" font-size="8.6" text-anchor="middle" textLength="7.77" lengthAdjust="spacingAndGlyphs" fill="#111">11</text>
<rect x="446.45" y="200.70" width="9.10" height="7.60" fill="#67a9e2"/>
<rect x="446.45" y="208.30" width="9.10" height="11.50" fill="#efb91f"/>
<rect x="446.45" y="219.80" width="9.10" height="61.00" fill="#532468"/>
<text x="451.0" y="290.40000000000003" font-size="8.6" text-anchor="middle" textLength="8.32" lengthAdjust="spacingAndGlyphs" fill="#111">12</text>
<text x="315.55" y="212.8" font-size="8.2" text-anchor="middle" fill="#f4f8ff">2</text>
<text x="315.55" y="228.2" font-size="8.2" text-anchor="middle" fill="#111">1</text>
<text x="315.55" y="265.8" font-size="8.2" text-anchor="middle" fill="#e8e0f0">0</text>
<line x1="278.4" y1="198.2" x2="278.4" y2="281.40000000000003" stroke="#111" stroke-width="1.4"/>
<line x1="275.79999999999995" y1="280.8" x2="278.4" y2="280.8" stroke="#111" stroke-width="1.0"/>
<text x="272.5" y="283.8" font-size="8.6" text-anchor="end" textLength="10.4" lengthAdjust="spacingAndGlyphs" fill="#111">0.0</text>
<line x1="275.79999999999995" y1="264.78000000000003" x2="278.4" y2="264.78000000000003" stroke="#111" stroke-width="1.0"/>
<text x="272.5" y="267.78000000000003" font-size="8.6" text-anchor="end" textLength="10.4" lengthAdjust="spacingAndGlyphs" fill="#111">0.2</text>
<line x1="275.79999999999995" y1="248.76" x2="278.4" y2="248.76" stroke="#111" stroke-width="1.0"/>
<text x="272.5" y="251.76" font-size="8.6" text-anchor="end" textLength="10.4" lengthAdjust="spacingAndGlyphs" fill="#111">0.4</text>
<line x1="275.79999999999995" y1="232.73999999999998" x2="278.4" y2="232.73999999999998" stroke="#111" stroke-width="1.0"/>
<text x="272.5" y="235.73999999999998" font-size="8.6" text-anchor="end" textLength="10.4" lengthAdjust="spacingAndGlyphs" fill="#111">0.6</text>
<line x1="275.79999999999995" y1="216.71999999999997" x2="278.4" y2="216.71999999999997" stroke="#111" stroke-width="1.0"/>
<text x="272.5" y="219.71999999999997" font-size="8.6" text-anchor="end" textLength="10.4" lengthAdjust="spacingAndGlyphs" fill="#111">0.8</text>
<line x1="275.79999999999995" y1="200.7" x2="278.4" y2="200.7" stroke="#111" stroke-width="1.0"/>
<text x="272.5" y="203.7" font-size="8.6" text-anchor="end" textLength="10.4" lengthAdjust="spacingAndGlyphs" fill="#111">1.0</text>
<line x1="278.4" y1="281.1" x2="458.55" y2="281.1" stroke="#111" stroke-width="1.4"/>
<text x="257.4" y="239.75" font-size="10.4" text-anchor="middle" textLength="86" lengthAdjust="spacingAndGlyphs" transform="rotate(-90 257.4 239.75)" fill="#111">Percentage of patients</text>
<text x="147.1" y="308.0" font-size="9.7" text-anchor="middle" font-weight="bold" textLength="50" lengthAdjust="spacingAndGlyphs" fill="#111">BuCy MUD</text>
<rect x="60.20" y="312.50" width="9.10" height="6.30" fill="#67a9e2"/>
<rect x="60.20" y="318.80" width="9.10" height="8.90" fill="#efb91f"/>
<rect x="60.20" y="327.70" width="9.10" height="64.80" fill="#532468"/>
<text x="64.75" y="402.1" font-size="8.6" text-anchor="middle" textLength="4.16" lengthAdjust="spacingAndGlyphs" fill="#111">1</text>
<rect x="75.25" y="313.00" width="9.10" height="3.20" fill="#960c30"/>
<rect x="75.25" y="316.20" width="9.10" height="18.60" fill="#67a9e2"/>
<rect x="75.25" y="334.80" width="9.10" height="20.20" fill="#efb91f"/>
<rect x="75.25" y="355.00" width="9.10" height="37.50" fill="#532468"/>
<text x="79.8" y="402.1" font-size="8.6" text-anchor="middle" textLength="4.16" lengthAdjust="spacingAndGlyphs" fill="#111">2</text>
<rect x="90.30" y="313.00" width="9.10" height="5.00" fill="#960c30"/>
<rect x="90.30" y="318.00" width="9.10" height="18.20" fill="#67a9e2"/>
<rect x="90.30" y="336.20" width="9.10" height="19.20" fill="#efb91f"/>
<rect x="90.30" y="355.40" width="9.10" height="37.10" fill="#532468"/>
<text x="94.85000000000001" y="402.1" font-size="8.6" text-anchor="middle" textLength="4.16" lengthAdjust="spacingAndGlyphs" fill="#111">3</text>
<rect x="105.35" y="313.00" width="9.10" height="4.50" fill="#960c30"/>
<rect x="105.35" y="317.50" width="9.10" height="14.80" fill="#67a9e2"/>
<rect x="105.35" y="332.30" width="9.10" height="20.70" fill="#efb91f"/>
<rect x="105.35" y="353.00" width="9.10" height="39.50" fill="#532468"/>
<text x="109.9" y="402.1" font-size="8.6" text-anchor="middle" textLength="4.16" lengthAdjust="spacingAndGlyphs" fill="#111">4</text>
<rect x="120.40" y="313.00" width="9.10" height="2.00" fill="#5c9e3e"/>
<rect x="120.40" y="315.00" width="9.10" height="3.80" fill="#960c30"/>
<rect x="120.40" y="318.80" width="9.10" height="10.80" fill="#67a9e2"/>
<rect x="120.40" y="329.60" width="9.10" height="22.50" fill="#efb91f"/>
<rect x="120.40" y="352.10" width="9.10" height="40.40" fill="#532468"/>
<text x="124.95" y="402.1" font-size="8.6" text-anchor="middle" textLength="4.16" lengthAdjust="spacingAndGlyphs" fill="#111">5</text>
<rect x="135.45" y="313.80" width="9.10" height="2.70" fill="#960c30"/>
<rect x="135.45" y="316.50" width="9.10" height="8.10" fill="#67a9e2"/>
<rect x="135.45" y="324.60" width="9.10" height="25.40" fill="#efb91f"/>
<rect x="135.45" y="350.00" width="9.10" height="42.50" fill="#532468"/>
<text x="140.0" y="402.1" font-size="8.6" text-anchor="middle" textLength="4.16" lengthAdjust="spacingAndGlyphs" fill="#111">6</text>
<rect x="150.50" y="313.00" width="9.10" height="2.40" fill="#960c30"/>
<rect x="150.50" y="315.40" width="9.10" height="8.60" fill="#67a9e2"/>
<rect x="150.50" y="324.00" width="9.10" height="18.00" fill="#efb91f"/>
<rect x="150.50" y="342.00" width="9.10" height="50.50" fill="#532468"/>
<text x="155.05" y="402.1" font-size="8.6" text-anchor="middle" textLength="4.16" lengthAdjust="spacingAndGlyphs" fill="#111">7</text>
<rect x="165.55" y="313.00" width="9.10" height="1.20" fill="#960c30"/>
<rect x="165.55" y="314.20" width="9.10" height="8.10" fill="#67a9e2"/>
<rect x="165.55" y="322.30" width="9.10" height="18.50" fill="#efb91f"/>
<rect x="165.55" y="340.80" width="9.10" height="51.70" fill="#532468"/>
<text x="170.10000000000002" y="402.1" font-size="8.6" text-anchor="middle" textLength="4.16" lengthAdjust="spacingAndGlyphs" fill="#111">8</text>
<rect x="180.60" y="313.00" width="9.10" height="1.20" fill="#4a2a5a"/>
<rect x="180.60" y="314.20" width="9.10" height="7.00" fill="#67a9e2"/>
<rect x="180.60" y="321.20" width="9.10" height="17.30" fill="#efb91f"/>
<rect x="180.60" y="338.50" width="9.10" height="54.00" fill="#532468"/>
<text x="185.15000000000003" y="402.1" font-size="8.6" text-anchor="middle" textLength="4.16" lengthAdjust="spacingAndGlyphs" fill="#111">9</text>
<rect x="195.65" y="313.00" width="9.10" height="7.70" fill="#67a9e2"/>
<rect x="195.65" y="320.70" width="9.10" height="14.30" fill="#efb91f"/>
<rect x="195.65" y="335.00" width="9.10" height="57.50" fill="#532468"/>
<text x="200.20000000000005" y="402.1" font-size="8.6" text-anchor="middle" textLength="8.32" lengthAdjust="spacingAndGlyphs" fill="#111">10</text>
<rect x="210.70" y="313.00" width="9.10" height="1.20" fill="#5c9e3e"/>
<rect x="210.70" y="314.20" width="9.10" height="7.00" fill="#67a9e2"/>
<rect x="210.70" y="321.20" width="9.10" height="12.70" fill="#efb91f"/>
<rect x="210.70" y="333.90" width="9.10" height="58.60" fill="#532468"/>
<text x="215.25" y="402.1" font-size="8.6" text-anchor="middle" textLength="7.77" lengthAdjust="spacingAndGlyphs" fill="#111">11</text>
<rect x="225.75" y="313.00" width="9.10" height="4.70" fill="#67a9e2"/>
<rect x="225.75" y="317.70" width="9.10" height="13.90" fill="#efb91f"/>
<rect x="225.75" y="331.60" width="9.10" height="60.90" fill="#532468"/>
<text x="230.3" y="402.1" font-size="8.6" text-anchor="middle" textLength="8.32" lengthAdjust="spacingAndGlyphs" fill="#111">12</text>
<text x="94.85000000000001" y="327.2" font-size="8.2" text-anchor="middle" fill="#f4f8ff">2</text>
<text x="94.85000000000001" y="345.5" font-size="8.2" text-anchor="middle" fill="#111">1</text>
<text x="94.85000000000001" y="381.5" font-size="8.2" text-anchor="middle" fill="#e8e0f0">0</text>
<line x1="57.3" y1="310.0" x2="57.3" y2="393.1" stroke="#111" stroke-width="1.4"/>
<line x1="54.699999999999996" y1="392.5" x2="57.3" y2="392.5" stroke="#111" stroke-width="1.0"/>
<text x="51.4" y="395.5" font-size="8.6" text-anchor="end" textLength="10.4" lengthAdjust="spacingAndGlyphs" fill="#111">0.0</text>
<line x1="54.699999999999996" y1="376.5" x2="57.3" y2="376.5" stroke="#111" stroke-width="1.0"/>
<text x="51.4" y="379.5" font-size="8.6" text-anchor="end" textLength="10.4" lengthAdjust="spacingAndGlyphs" fill="#111">0.2</text>
<line x1="54.699999999999996" y1="360.5" x2="57.3" y2="360.5" stroke="#111" stroke-width="1.0"/>
<text x="51.4" y="363.5" font-size="8.6" text-anchor="end" textLength="10.4" lengthAdjust="spacingAndGlyphs" fill="#111">0.4</text>
<line x1="54.699999999999996" y1="344.5" x2="57.3" y2="344.5" stroke="#111" stroke-width="1.0"/>
<text x="51.4" y="347.5" font-size="8.6" text-anchor="end" textLength="10.4" lengthAdjust="spacingAndGlyphs" fill="#111">0.6</text>
<line x1="54.699999999999996" y1="328.5" x2="57.3" y2="328.5" stroke="#111" stroke-width="1.0"/>
<text x="51.4" y="331.5" font-size="8.6" text-anchor="end" textLength="10.4" lengthAdjust="spacingAndGlyphs" fill="#111">0.8</text>
<line x1="54.699999999999996" y1="312.5" x2="57.3" y2="312.5" stroke="#111" stroke-width="1.0"/>
<text x="51.4" y="315.5" font-size="8.6" text-anchor="end" textLength="10.4" lengthAdjust="spacingAndGlyphs" fill="#111">1.0</text>
<line x1="57.3" y1="392.8" x2="237.85" y2="392.8" stroke="#111" stroke-width="1.4"/>
<text x="36.3" y="351.5" font-size="10.4" text-anchor="middle" textLength="86" lengthAdjust="spacingAndGlyphs" transform="rotate(-90 36.3 351.5)" fill="#111">Percentage of patients</text>
<text x="146.95" y="414.4" font-size="10.0" text-anchor="middle" textLength="108.5" lengthAdjust="spacingAndGlyphs" fill="#111">Months post transplantation</text>
<text x="368.8" y="308.0" font-size="9.7" text-anchor="middle" font-weight="bold" textLength="51.6" lengthAdjust="spacingAndGlyphs" fill="#111">BuFlu MUD</text>
<rect x="281.20" y="313.10" width="9.10" height="10.70" fill="#67a9e2"/>
<rect x="281.20" y="323.80" width="9.10" height="15.80" fill="#efb91f"/>
<rect x="281.20" y="339.60" width="9.10" height="52.90" fill="#532468"/>
<text x="285.75" y="402.1" font-size="8.6" text-anchor="middle" textLength="4.16" lengthAdjust="spacingAndGlyphs" fill="#111">1</text>
<rect x="296.25" y="313.10" width="9.10" height="29.40" fill="#67a9e2"/>
<rect x="296.25" y="342.50" width="9.10" height="17.90" fill="#efb91f"/>
<rect x="296.25" y="360.40" width="9.10" height="32.10" fill="#532468"/>
<text x="300.8" y="402.1" font-size="8.6" text-anchor="middle" textLength="4.16" lengthAdjust="spacingAndGlyphs" fill="#111">2</text>
<rect x="311.30" y="313.10" width="9.10" height="17.90" fill="#67a9e2"/>
<rect x="311.30" y="331.00" width="9.10" height="23.00" fill="#efb91f"/>
<rect x="311.30" y="354.00" width="9.10" height="38.50" fill="#532468"/>
<text x="315.85" y="402.1" font-size="8.6" text-anchor="middle" textLength="4.16" lengthAdjust="spacingAndGlyphs" fill="#111">3</text>
<rect x="326.35" y="313.10" width="9.10" height="1.50" fill="#6b1a4c"/>
<rect x="326.35" y="314.60" width="9.10" height="16.40" fill="#67a9e2"/>
<rect x="326.35" y="331.00" width="9.10" height="20.50" fill="#efb91f"/>
<rect x="326.35" y="351.50" width="9.10" height="41.00" fill="#532468"/>
<text x="330.90000000000003" y="402.1" font-size="8.6" text-anchor="middle" textLength="4.16" lengthAdjust="spacingAndGlyphs" fill="#111">4</text>
<rect x="341.40" y="313.10" width="9.10" height="16.50" fill="#67a9e2"/>
<rect x="341.40" y="329.60" width="9.10" height="23.10" fill="#efb91f"/>
<rect x="341.40" y="352.70" width="9.10" height="39.80" fill="#532468"/>
<text x="345.95" y="402.1" font-size="8.6" text-anchor="middle" textLength="4.16" lengthAdjust="spacingAndGlyphs" fill="#111">5</text>
<rect x="356.45" y="313.10" width="9.10" height="11.10" fill="#67a9e2"/>
<rect x="356.45" y="324.20" width="9.10" height="25.00" fill="#efb91f"/>
<rect x="356.45" y="349.20" width="9.10" height="43.30" fill="#532468"/>
<text x="361.0" y="402.1" font-size="8.6" text-anchor="middle" textLength="4.16" lengthAdjust="spacingAndGlyphs" fill="#111">6</text>
<rect x="371.50" y="313.00" width="9.10" height="1.20" fill="#6b1a4c"/>
<rect x="371.50" y="314.20" width="9.10" height="12.70" fill="#67a9e2"/>
<rect x="371.50" y="326.90" width="9.10" height="16.20" fill="#efb91f"/>
<rect x="371.50" y="343.10" width="9.10" height="49.40" fill="#532468"/>
<text x="376.05" y="402.1" font-size="8.6" text-anchor="middle" textLength="4.16" lengthAdjust="spacingAndGlyphs" fill="#111">7</text>
<rect x="386.55" y="313.00" width="9.10" height="1.20" fill="#6b1a4c"/>
<rect x="386.55" y="314.20" width="9.10" height="12.00" fill="#67a9e2"/>
<rect x="386.55" y="326.20" width="9.10" height="16.20" fill="#efb91f"/>
<rect x="386.55" y="342.40" width="9.10" height="50.10" fill="#532468"/>
<text x="391.1" y="402.1" font-size="8.6" text-anchor="middle" textLength="4.16" lengthAdjust="spacingAndGlyphs" fill="#111">8</text>
<rect x="401.60" y="313.00" width="9.10" height="1.20" fill="#6b1a4c"/>
<rect x="401.60" y="314.20" width="9.10" height="12.00" fill="#67a9e2"/>
<rect x="401.60" y="326.20" width="9.10" height="15.80" fill="#efb91f"/>
<rect x="401.60" y="342.00" width="9.10" height="50.50" fill="#532468"/>
<text x="406.15000000000003" y="402.1" font-size="8.6" text-anchor="middle" textLength="4.16" lengthAdjust="spacingAndGlyphs" fill="#111">9</text>
<rect x="416.65" y="313.10" width="9.10" height="12.20" fill="#67a9e2"/>
<rect x="416.65" y="325.30" width="9.10" height="15.50" fill="#efb91f"/>
<rect x="416.65" y="340.80" width="9.10" height="51.70" fill="#532468"/>
<text x="421.2" y="402.1" font-size="8.6" text-anchor="middle" textLength="8.32" lengthAdjust="spacingAndGlyphs" fill="#111">10</text>
<rect x="431.70" y="313.10" width="9.10" height="11.50" fill="#67a9e2"/>
<rect x="431.70" y="324.60" width="9.10" height="16.90" fill="#efb91f"/>
<rect x="431.70" y="341.50" width="9.10" height="51.00" fill="#532468"/>
<text x="436.25" y="402.1" font-size="8.6" text-anchor="middle" textLength="7.77" lengthAdjust="spacingAndGlyphs" fill="#111">11</text>
<rect x="446.75" y="313.10" width="9.10" height="10.90" fill="#67a9e2"/>
<rect x="446.75" y="324.00" width="9.10" height="19.10" fill="#efb91f"/>
<rect x="446.75" y="343.10" width="9.10" height="49.40" fill="#532468"/>
<text x="451.3" y="402.1" font-size="8.6" text-anchor="middle" textLength="8.32" lengthAdjust="spacingAndGlyphs" fill="#111">12</text>
<text x="315.85" y="324.3" font-size="8.2" text-anchor="middle" fill="#f4f8ff">2</text>
<text x="315.85" y="344.5" font-size="8.2" text-anchor="middle" fill="#111">1</text>
<text x="315.85" y="379.8" font-size="8.2" text-anchor="middle" fill="#e8e0f0">0</text>
<line x1="279.0" y1="310.0" x2="279.0" y2="393.1" stroke="#111" stroke-width="1.4"/>
<line x1="276.4" y1="392.5" x2="279.0" y2="392.5" stroke="#111" stroke-width="1.0"/>
<text x="273.1" y="395.5" font-size="8.6" text-anchor="end" textLength="10.4" lengthAdjust="spacingAndGlyphs" fill="#111">0.0</text>
<line x1="276.4" y1="376.5" x2="279.0" y2="376.5" stroke="#111" stroke-width="1.0"/>
<text x="273.1" y="379.5" font-size="8.6" text-anchor="end" textLength="10.4" lengthAdjust="spacingAndGlyphs" fill="#111">0.2</text>
<line x1="276.4" y1="360.5" x2="279.0" y2="360.5" stroke="#111" stroke-width="1.0"/>
<text x="273.1" y="363.5" font-size="8.6" text-anchor="end" textLength="10.4" lengthAdjust="spacingAndGlyphs" fill="#111">0.4</text>
<line x1="276.4" y1="344.5" x2="279.0" y2="344.5" stroke="#111" stroke-width="1.0"/>
<text x="273.1" y="347.5" font-size="8.6" text-anchor="end" textLength="10.4" lengthAdjust="spacingAndGlyphs" fill="#111">0.6</text>
<line x1="276.4" y1="328.5" x2="279.0" y2="328.5" stroke="#111" stroke-width="1.0"/>
<text x="273.1" y="331.5" font-size="8.6" text-anchor="end" textLength="10.4" lengthAdjust="spacingAndGlyphs" fill="#111">0.8</text>
<line x1="276.4" y1="312.5" x2="279.0" y2="312.5" stroke="#111" stroke-width="1.0"/>
<text x="273.1" y="315.5" font-size="8.6" text-anchor="end" textLength="10.4" lengthAdjust="spacingAndGlyphs" fill="#111">1.0</text>
<line x1="279.0" y1="392.8" x2="458.85" y2="392.8" stroke="#111" stroke-width="1.4"/>
<text x="258.0" y="351.5" font-size="10.4" text-anchor="middle" textLength="86" lengthAdjust="spacingAndGlyphs" transform="rotate(-90 258.0 351.5)" fill="#111">Percentage of patients</text>
<text x="369.4" y="414.4" font-size="10.0" text-anchor="middle" textLength="108.8" lengthAdjust="spacingAndGlyphs" fill="#111">Months post transplantation</text>
<rect x="475.50" y="267.70" width="5.30" height="5.20" fill="#5c9e3e"/>
<text x="483.6" y="273.09999999999997" font-size="8.4" fill="#111">4</text>
<rect x="475.50" y="280.15" width="5.30" height="5.20" fill="#960c30"/>
<text x="483.6" y="285.54999999999995" font-size="8.4" fill="#111">3</text>
<rect x="475.50" y="292.60" width="5.30" height="5.20" fill="#67a9e2"/>
<text x="483.6" y="297.99999999999994" font-size="8.4" fill="#111">2</text>
<rect x="475.50" y="305.05" width="5.30" height="5.20" fill="#efb91f"/>
<text x="483.6" y="310.44999999999993" font-size="8.4" fill="#111">1</text>
<rect x="475.50" y="317.50" width="5.30" height="5.20" fill="#3a1c52"/>
<text x="483.6" y="322.9" font-size="8.4" fill="#111">0</text>
<text x="9.4" y="441.4" font-size="11.3" font-weight="bold" fill="#111">C</text>
<text x="138.1" y="441.1" font-size="9.7" text-anchor="middle" font-weight="bold" textLength="50" lengthAdjust="spacingAndGlyphs" fill="#111">BuCy MRD</text>
<path d="M60.3,446.2 L218.6,446.2 L218.6,492.4 L218.6,492.4 L218.6,492.26666666666665 L217.03333333333333,492.26666666666665 L217.03333333333333,492.1333333333333 L215.46666666666667,492.1333333333333 L215.46666666666667,492.0 L213.89999999999998,492.0 L213.89999999999998,491.8666666666667 L212.33333333333331,491.8666666666667 L212.33333333333331,491.73333333333335 L210.76666666666665,491.73333333333335 L210.76666666666665,491.6 L209.2,491.6 L209.2,491.52727272727276 L207.63636363636363,491.52727272727276 L207.63636363636363,491.4545454545455 L206.07272727272726,491.4545454545455 L206.07272727272726,491.3818181818182 L204.5090909090909,491.3818181818182 L204.5090909090909,491.3090909090909 L202.94545454545454,491.3090909090909 L202.94545454545454,491.23636363636365 L201.38181818181818,491.23636363636365 L201.38181818181818,491.1636363636364 L199.8181818181818,491.1636363636364 L199.8181818181818,491.0909090909091 L198.25454545454545,491.0909090909091 L198.25454545454545,491.01818181818186 L196.6909090909091,491.01818181818186 L196.6909090909091,490.94545454545454 L195.12727272727273,490.94545454545454 L195.12727272727273,490.8727272727273 L193.56363636363636,490.8727272727273 L193.56363636363636,490.8 L192.0,490.8 L192.0,490.75 L190.35833333333335,490.75 L190.35833333333335,490.7 L188.71666666666667,490.7 L188.71666666666667,490.65 L187.075,490.65 L187.075,490.6 L185.43333333333334,490.6 L185.43333333333334,490.55 L183.79166666666669,490.55 L183.79166666666669,490.5 L182.15,490.5 L182.15,490.45 L180.50833333333333,490.45 L180.50833333333333,490.4 L178.86666666666667,490.4 L178.86666666666667,490.35 L177.22500000000002,490.35 L177.22500000000002,490.3 L175.58333333333334,490.3 L175.58333333333334,490.25 L173.94166666666666,490.25 L173.94166666666666,490.2 L172.3,490.2 L172.3,489.9714285714286 L170.75714285714287,489.9714285714286 L170.75714285714287,489.74285714285713 L169.21428571428572,489.74285714285713 L169.21428571428572,489.51428571428573 L167.67142857142858,489.51428571428573 L167.67142857142858,489.2857142857143 L166.12857142857143,489.2857142857143 L166.12857142857143,489.0571428571429 L164.5857142857143,489.0571428571429 L164.5857142857143,488.8285714285714 L163.04285714285714,488.8285714285714 L163.04285714285714,488.6 L161.5,488.6 L161.5,488.37 L159.97,488.37 L159.97,488.14000000000004 L158.44,488.14000000000004 L158.44,487.91 L156.91,487.91 L156.91,487.68 L155.38,487.68 L155.38,487.45000000000005 L153.85,487.45000000000005 L153.85,487.22 L152.32,487.22 L152.32,486.99 L150.79,486.99 L150.79,486.76 L149.26,486.76 L149.26,486.53000000000003 L147.73,486.53000000000003 L147.73,486.3 L146.2,486.3 L146.2,486.02 L144.66,486.02 L144.66,485.74 L143.12,485.74 L143.12,485.46000000000004 L141.57999999999998,485.46000000000004 L141.57999999999998,485.18 L140.04,485.18 L140.04,484.9 L138.5,484.9 L138.5,484.62 L136.96,484.62 L136.96,484.34000000000003 L135.42000000000002,484.34000000000003 L135.42000000000002,484.06 L133.88,484.06 L133.88,483.78 L132.34,483.78 L132.34,483.5 L130.8,483.5 L130.8,483.29 L129.26000000000002,483.29 L129.26000000000002,483.08 L127.72000000000001,483.08 L127.72000000000001,482.87 L126.18,482.87 L126.18,482.65999999999997 L124.64000000000001,482.65999999999997 L124.64000000000001,482.45 L123.10000000000001,482.45 L123.10000000000001,482.24 L121.56,482.24 L121.56,482.03 L120.02000000000001,482.03 L120.02000000000001,481.82 L118.48,481.82 L118.48,481.60999999999996 L116.94000000000001,481.60999999999996 L116.94000000000001,481.4 L115.4,481.4 L115.4,481.15 L113.83333333333334,481.15 L113.83333333333334,480.9 L112.26666666666667,480.9 L112.26666666666667,480.65 L110.7,480.65 L110.7,480.4 L109.13333333333334,480.4 L109.13333333333334,480.15 L107.56666666666666,480.15 L107.56666666666666,479.9 L106.0,479.9 L106.0,479.575 L104.325,479.575 L104.325,479.25 L102.65,479.25 L102.65,478.925 L100.975,478.925 L100.975,478.6 L99.3,478.6 L99.3,478.3 L97.7,478.3 L97.7,478.0 L96.1,478.0 L96.1,477.7 L94.5,477.7 L94.5,477.2 L92.9,477.2 L92.9,476.7 L91.3,476.7 L91.3,476.2 L89.7,476.2 L89.7,475.56666666666666 L88.06666666666666,475.56666666666666 L88.06666666666666,474.93333333333334 L86.43333333333334,474.93333333333334 L86.43333333333334,474.3 L84.8,474.3 L84.8,473.1 L83.4,473.1 L83.4,471.9 L82.0,471.9 L82.0,470.45 L80.55,470.45 L80.55,469 L79.1,469.0 L79.1,467.55 L77.15,467.55 L77.15,466.1 L75.2,466.1 L75.2,464.65 L73.30000000000001,464.65 L73.30000000000001,463.2 L71.4,463.2 L71.4,461.75 L69.95,461.75 L69.95,460.3 L68.5,460.3 L68.5,458.4 L67.05,458.4 L67.05,456.5 L65.6,456.5 L65.6,454.1 L64.15,454.1 L64.15,451.7 L62.7,451.7 L62.7,449.15 L61.5,449.15 L61.5,446.6 L60.3,446.6 Z" fill="#a8002c"/>
<path d="M59.0,446.6 L59.4,446.6 L59.4,447.8 L59.599999999999994,447.8 L59.599999999999994,450.70000000000005 L59.8,450.70000000000005 L59.8,453.6 L60.05,453.6 L60.05,456.0 L60.3,456.0 L60.3,458.4 L60.55,458.4 L60.55,460.8 L60.8,460.8 L60.8,463.2 L61.13333333333333,463.2 L61.13333333333333,465.76666666666665 L61.46666666666666,465.76666666666665 L61.46666666666666,468.3333333333333 L61.8,468.3333333333333 L61.8,470.9 L62.25,470.9 L62.25,473.79999999999995 L62.7,473.79999999999995 L62.7,476.7 L63.45,476.7 L63.45,479.1 L64.2,479.1 L64.2,481.5 L66.6,481.5 L66.6,484.4 L68.5,484.4 L68.5,487.3 L69.9,487.3 L69.9,488.7 L71.4,488.7 L71.4,486.8 L72.8,486.8 L72.8,486.3 L74.3,486.3 L74.3,487.8 L75.7,487.8 L75.7,486.8 L77.6,486.8 L77.6,483.4 L78.8,483.4 L78.8,481.95 L80.0,481.95 L80.0,480.5 L81.5,480.5 L81.5,480.1 L82.9,480.1 L82.9,482.0 L84.35,482 L84.35,482.25 L85.8,482.25 L85.8,482.5 L87.75,482.5 L87.75,482.7 L89.7,482.7 L89.7,482.9 L91.3,482.9 L91.3,482.76666666666665 L92.9,482.76666666666665 L92.9,482.6333333333333 L94.5,482.6333333333333 L94.5,482.5 L96.4,482.5 L96.4,482.95 L98.3,482.95 L98.3,483.4 L100.25,483.4 L100.25,483.7 L102.2,483.7 L102.2,484.0 L104.1,484.0 L104.1,484.15 L106.0,484.15 L106.0,484.3 L107.56666666666666,484.3 L107.56666666666666,484.5 L109.13333333333334,484.5 L109.13333333333334,484.7 L110.7,484.7 L110.7,484.9 L112.26666666666667,484.9 L112.26666666666667,485.1 L113.83333333333334,485.1 L113.83333333333334,485.3 L115.4,485.3 L115.4,485.5 L116.94000000000001,485.5 L116.94000000000001,485.66 L118.48,485.66 L118.48,485.82 L120.02000000000001,485.82 L120.02000000000001,485.98 L121.56,485.98 L121.56,486.14 L123.10000000000001,486.14 L123.10000000000001,486.3 L124.64000000000001,486.3 L124.64000000000001,486.46000000000004 L126.18,486.46000000000004 L126.18,486.62 L127.72000000000001,486.62 L127.72000000000001,486.78000000000003 L129.26000000000002,486.78000000000003 L129.26000000000002,486.94 L130.8,486.94 L130.8,487.1 L132.34,487.1 L132.34,487.25 L133.88,487.25 L133.88,487.40000000000003 L135.42000000000002,487.40000000000003 L135.42000000000002,487.55 L136.96,487.55 L136.96,487.70000000000005 L138.5,487.70000000000005 L138.5,487.85 L140.04,487.85 L140.04,488.0 L141.57999999999998,488.0 L141.57999999999998,488.15000000000003 L143.12,488.15000000000003 L143.12,488.3 L144.66,488.3 L144.66,488.45000000000005 L146.2,488.45000000000005 L146.2,488.6 L147.73,488.6 L147.73,488.76 L149.26,488.76 L149.26,488.92 L150.79,488.92 L150.79,489.08000000000004 L152.32,489.08000000000004 L152.32,489.24 L153.85,489.24 L153.85,489.4 L155.38,489.4 L155.38,489.56 L156.91,489.56 L156.91,489.72 L158.44,489.72 L158.44,489.88 L159.97,489.88 L159.97,490.03999999999996 L161.5,490.03999999999996 L161.5,490.2 L163.04285714285714,490.2 L163.04285714285714,490.3 L164.5857142857143,490.3 L164.5857142857143,490.4 L166.12857142857143,490.4 L166.12857142857143,490.5 L167.67142857142858,490.5 L167.67142857142858,490.59999999999997 L169.21428571428572,490.59999999999997 L169.21428571428572,490.7 L170.75714285714287,490.7 L170.75714285714287,490.79999999999995 L172.3,490.79999999999995 L172.3,490.9 L173.94166666666666,490.9 L173.94166666666666,490.92499999999995 L175.58333333333334,490.92499999999995 L175.58333333333334,490.95 L177.22500000000002,490.95 L177.22500000000002,490.97499999999997 L178.86666666666667,490.97499999999997 L178.86666666666667,491.0 L180.50833333333333,491.0 L180.50833333333333,491.025 L182.15,491.025 L182.15,491.04999999999995 L183.79166666666669,491.04999999999995 L183.79166666666669,491.075 L185.43333333333334,491.075 L185.43333333333334,491.09999999999997 L187.075,491.09999999999997 L187.075,491.125 L188.71666666666667,491.125 L188.71666666666667,491.15 L190.35833333333335,491.15 L190.35833333333335,491.175 L192.0,491.175 L192.0,491.2 L193.56363636363636,491.2 L193.56363636363636,491.27272727272725 L195.12727272727273,491.27272727272725 L195.12727272727273,491.3454545454545 L196.6909090909091,491.3454545454545 L196.6909090909091,491.41818181818184 L198.25454545454545,491.41818181818184 L198.25454545454545,491.4909090909091 L199.8181818181818,491.4909090909091 L199.8181818181818,491.56363636363636 L201.38181818181818,491.56363636363636 L201.38181818181818,491.6363636363636 L202.94545454545454,491.6363636363636 L202.94545454545454,491.7090909090909 L204.5090909090909,491.7090909090909 L204.5090909090909,491.78181818181815 L206.07272727272726,491.78181818181815 L206.07272727272726,491.8545454545455 L207.63636363636363,491.8545454545455 L207.63636363636363,491.92727272727274 L209.2,491.92727272727274 L209.2,492.0 L210.76666666666665,492 L210.76666666666665,492.1333333333333 L212.33333333333331,492.1333333333333 L212.33333333333331,492.26666666666665 L213.89999999999998,492.26666666666665 L213.89999999999998,492.4 L215.46666666666667,492.4 L215.46666666666667,492.53333333333336 L217.03333333333333,492.53333333333336 L217.03333333333333,492.6666666666667 L218.6,492.6666666666667 L218.6,492.8 L218.6,492.4 L218.6,492.26666666666665 L217.03333333333333,492.26666666666665 L217.03333333333333,492.1333333333333 L215.46666666666667,492.1333333333333 L215.46666666666667,492.0 L213.89999999999998,492.0 L213.89999999999998,491.8666666666667 L212.33333333333331,491.8666666666667 L212.33333333333331,491.73333333333335 L210.76666666666665,491.73333333333335 L210.76666666666665,491.6 L209.2,491.6 L209.2,491.52727272727276 L207.63636363636363,491.52727272727276 L207.63636363636363,491.4545454545455 L206.07272727272726,491.4545454545455 L206.07272727272726,491.3818181818182 L204.5090909090909,491.3818181818182 L204.5090909090909,491.3090909090909 L202.94545454545454,491.3090909090909 L202.94545454545454,491.23636363636365 L201.38181818181818,491.23636363636365 L201.38181818181818,491.1636363636364 L199.8181818181818,491.1636363636364 L199.8181818181818,491.0909090909091 L198.25454545454545,491.0909090909091 L198.25454545454545,491.01818181818186 L196.6909090909091,491.01818181818186 L196.6909090909091,490.94545454545454 L195.12727272727273,490.94545454545454 L195.12727272727273,490.8727272727273 L193.56363636363636,490.8727272727273 L193.56363636363636,490.8 L192.0,490.8 L192.0,490.75 L190.35833333333335,490.75 L190.35833333333335,490.7 L188.71666666666667,490.7 L188.71666666666667,490.65 L187.075,490.65 L187.075,490.6 L185.43333333333334,490.6 L185.43333333333334,490.55 L183.79166666666669,490.55 L183.79166666666669,490.5 L182.15,490.5 L182.15,490.45 L180.50833333333333,490.45 L180.50833333333333,490.4 L178.86666666666667,490.4 L178.86666666666667,490.35 L177.22500000000002,490.35 L177.22500000000002,490.3 L175.58333333333334,490.3 L175.58333333333334,490.25 L173.94166666666666,490.25 L173.94166666666666,490.2 L172.3,490.2 L172.3,489.9714285714286 L170.75714285714287,489.9714285714286 L170.75714285714287,489.74285714285713 L169.21428571428572,489.74285714285713 L169.21428571428572,489.51428571428573 L167.67142857142858,489.51428571428573 L167.67142857142858,489.2857142857143 L166.12857142857143,489.2857142857143 L166.12857142857143,489.0571428571429 L164.5857142857143,489.0571428571429 L164.5857142857143,488.8285714285714 L163.04285714285714,488.8285714285714 L163.04285714285714,488.6 L161.5,488.6 L161.5,488.37 L159.97,488.37 L159.97,488.14000000000004 L158.44,488.14000000000004 L158.44,487.91 L156.91,487.91 L156.91,487.68 L155.38,487.68 L155.38,487.45000000000005 L153.85,487.45000000000005 L153.85,487.22 L152.32,487.22 L152.32,486.99 L150.79,486.99 L150.79,486.76 L149.26,486.76 L149.26,486.53000000000003 L147.73,486.53000000000003 L147.73,486.3 L146.2,486.3 L146.2,486.02 L144.66,486.02 L144.66,485.74 L143.12,485.74 L143.12,485.46000000000004 L141.57999999999998,485.46000000000004 L141.57999999999998,485.18 L140.04,485.18 L140.04,484.9 L138.5,484.9 L138.5,484.62 L136.96,484.62 L136.96,484.34000000000003 L135.42000000000002,484.34000000000003 L135.42000000000002,484.06 L133.88,484.06 L133.88,483.78 L132.34,483.78 L132.34,483.5 L130.8,483.5 L130.8,483.29 L129.26000000000002,483.29 L129.26000000000002,483.08 L127.72000000000001,483.08 L127.72000000000001,482.87 L126.18,482.87 L126.18,482.65999999999997 L124.64000000000001,482.65999999999997 L124.64000000000001,482.45 L123.10000000000001,482.45 L123.10000000000001,482.24 L121.56,482.24 L121.56,482.03 L120.02000000000001,482.03 L120.02000000000001,481.82 L118.48,481.82 L118.48,481.60999999999996 L116.94000000000001,481.60999999999996 L116.94000000000001,481.4 L115.4,481.4 L115.4,481.15 L113.83333333333334,481.15 L113.83333333333334,480.9 L112.26666666666667,480.9 L112.26666666666667,480.65 L110.7,480.65 L110.7,480.4 L109.13333333333334,480.4 L109.13333333333334,480.15 L107.56666666666666,480.15 L107.56666666666666,479.9 L106.0,479.9 L106.0,479.575 L104.325,479.575 L104.325,479.25 L102.65,479.25 L102.65,478.925 L100.975,478.925 L100.975,478.6 L99.3,478.6 L99.3,478.3 L97.7,478.3 L97.7,478.0 L96.1,478.0 L96.1,477.7 L94.5,477.7 L94.5,477.2 L92.9,477.2 L92.9,476.7 L91.3,476.7 L91.3,476.2 L89.7,476.2 L89.7,475.56666666666666 L88.06666666666666,475.56666666666666 L88.06666666666666,474.93333333333334 L86.43333333333334,474.93333333333334 L86.43333333333334,474.3 L84.8,474.3 L84.8,473.1 L83.4,473.1 L83.4,471.9 L82.0,471.9 L82.0,470.45 L80.55,470.45 L80.55,469 L79.1,469.0 L79.1,467.55 L77.15,467.55 L77.15,466.1 L75.2,466.1 L75.2,464.65 L73.30000000000001,464.65 L73.30000000000001,463.2 L71.4,463.2 L71.4,461.75 L69.95,461.75 L69.95,460.3 L68.5,460.3 L68.5,458.4 L67.05,458.4 L67.05,456.5 L65.6,456.5 L65.6,454.1 L64.15,454.1 L64.15,451.7 L62.7,451.7 L62.7,449.15 L61.5,449.15 L61.5,446.6 L60.3,446.6 Z" fill="#68a9dd"/>
<polyline points="60.3,446.6 61.5,446.6 61.5,449.1 62.7,449.1 62.7,451.7 64.2,451.7 64.2,454.1 65.6,454.1 65.6,456.5 67.0,456.5 67.0,458.4 68.5,458.4 68.5,460.3 70.0,460.3 70.0,461.8 71.4,461.8 71.4,463.2 73.3,463.2 73.3,464.6 75.2,464.6 75.2,466.1 77.2,466.1 77.2,467.6 79.1,467.6 79.1,469.0 80.5,469.0 80.5,470.4 82.0,470.4 82.0,471.9 83.4,471.9 83.4,473.1 84.8,473.1 84.8,474.3 86.4,474.3 86.4,474.9 88.1,474.9 88.1,475.6 89.7,475.6 89.7,476.2 91.3,476.2 91.3,476.7 92.9,476.7 92.9,477.2 94.5,477.2 94.5,477.7 96.1,477.7 96.1,478.0 97.7,478.0 97.7,478.3 99.3,478.3 99.3,478.6 101.0,478.6 101.0,478.9 102.7,478.9 102.7,479.2 104.3,479.2 104.3,479.6 106.0,479.6 106.0,479.9 107.6,479.9 107.6,480.1 109.1,480.1 109.1,480.4 110.7,480.4 110.7,480.6 112.3,480.6 112.3,480.9 113.8,480.9 113.8,481.1 115.4,481.1 115.4,481.4 116.9,481.4 116.9,481.6 118.5,481.6 118.5,481.8 120.0,481.8 120.0,482.0 121.6,482.0 121.6,482.2 123.1,482.2 123.1,482.4 124.6,482.4 124.6,482.7 126.2,482.7 126.2,482.9 127.7,482.9 127.7,483.1 129.3,483.1 129.3,483.3 130.8,483.3 130.8,483.5 132.3,483.5 132.3,483.8 133.9,483.8 133.9,484.1 135.4,484.1 135.4,484.3 137.0,484.3 137.0,484.6 138.5,484.6 138.5,484.9 140.0,484.9 140.0,485.2 141.6,485.2 141.6,485.5 143.1,485.5 143.1,485.7 144.7,485.7 144.7,486.0 146.2,486.0 146.2,486.3 147.7,486.3 147.7,486.5 149.3,486.5 149.3,486.8 150.8,486.8 150.8,487.0 152.3,487.0 152.3,487.2 153.8,487.2 153.8,487.5 155.4,487.5 155.4,487.7 156.9,487.7 156.9,487.9 158.4,487.9 158.4,488.1 160.0,488.1 160.0,488.4 161.5,488.4 161.5,488.6 163.0,488.6 163.0,488.8 164.6,488.8 164.6,489.1 166.1,489.1 166.1,489.3 167.7,489.3 167.7,489.5 169.2,489.5 169.2,489.7 170.8,489.7 170.8,490.0 172.3,490.0 172.3,490.2 173.9,490.2 173.9,490.2 175.6,490.2 175.6,490.3 177.2,490.3 177.2,490.4 178.9,490.4 178.9,490.4 180.5,490.4 180.5,490.4 182.2,490.4 182.2,490.5 183.8,490.5 183.8,490.6 185.4,490.6 185.4,490.6 187.1,490.6 187.1,490.6 188.7,490.6 188.7,490.7 190.4,490.7 190.4,490.8 192.0,490.8 192.0,490.8 193.6,490.8 193.6,490.9 195.1,490.9 195.1,490.9 196.7,490.9 196.7,491.0 198.3,491.0 198.3,491.1 199.8,491.1 199.8,491.2 201.4,491.2 201.4,491.2 202.9,491.2 202.9,491.3 204.5,491.3 204.5,491.4 206.1,491.4 206.1,491.5 207.6,491.5 207.6,491.5 209.2,491.5 209.2,491.6 210.8,491.6 210.8,491.7 212.3,491.7 212.3,491.9 213.9,491.9 213.9,492.0 215.5,492.0 215.5,492.1 217.0,492.1 217.0,492.3 218.6,492.3 218.6,492.4" fill="none" stroke="#1a1420" stroke-width="0.9" stroke-linejoin="miter"/>
<polyline points="59.0,446.6 59.4,446.6 59.4,447.8 59.6,447.8 59.6,450.7 59.8,450.7 59.8,453.6 60.0,453.6 60.0,456.0 60.3,456.0 60.3,458.4 60.5,458.4 60.5,460.8 60.8,460.8 60.8,463.2 61.1,463.2 61.1,465.8 61.5,465.8 61.5,468.3 61.8,468.3 61.8,470.9 62.2,470.9 62.2,473.8 62.7,473.8 62.7,476.7 63.5,476.7 63.5,479.1 64.2,479.1 64.2,481.5 66.6,481.5 66.6,484.4 68.5,484.4 68.5,487.3 69.9,487.3 69.9,488.7 71.4,488.7 71.4,486.8 72.8,486.8 72.8,486.3 74.3,486.3 74.3,487.8 75.7,487.8 75.7,486.8 77.6,486.8 77.6,483.4 78.8,483.4 78.8,481.9 80.0,481.9 80.0,480.5 81.5,480.5 81.5,480.1 82.9,480.1 82.9,482.0 84.3,482.0 84.3,482.2 85.8,482.2 85.8,482.5 87.8,482.5 87.8,482.7 89.7,482.7 89.7,482.9 91.3,482.9 91.3,482.8 92.9,482.8 92.9,482.6 94.5,482.6 94.5,482.5 96.4,482.5 96.4,482.9 98.3,482.9 98.3,483.4 100.2,483.4 100.2,483.7 102.2,483.7 102.2,484.0 104.1,484.0 104.1,484.1 106.0,484.1 106.0,484.3 107.6,484.3 107.6,484.5 109.1,484.5 109.1,484.7 110.7,484.7 110.7,484.9 112.3,484.9 112.3,485.1 113.8,485.1 113.8,485.3 115.4,485.3 115.4,485.5 116.9,485.5 116.9,485.7 118.5,485.7 118.5,485.8 120.0,485.8 120.0,486.0 121.6,486.0 121.6,486.1 123.1,486.1 123.1,486.3 124.6,486.3 124.6,486.5 126.2,486.5 126.2,486.6 127.7,486.6 127.7,486.8 129.3,486.8 129.3,486.9 130.8,486.9 130.8,487.1 132.3,487.1 132.3,487.2 133.9,487.2 133.9,487.4 135.4,487.4 135.4,487.6 137.0,487.6 137.0,487.7 138.5,487.7 138.5,487.9 140.0,487.9 140.0,488.0 141.6,488.0 141.6,488.2 143.1,488.2 143.1,488.3 144.7,488.3 144.7,488.5 146.2,488.5 146.2,488.6 147.7,488.6 147.7,488.8 149.3,488.8 149.3,488.9 150.8,488.9 150.8,489.1 152.3,489.1 152.3,489.2 153.8,489.2 153.8,489.4 155.4,489.4 155.4,489.6 156.9,489.6 156.9,489.7 158.4,489.7 158.4,489.9 160.0,489.9 160.0,490.0 161.5,490.0 161.5,490.2 163.0,490.2 163.0,490.3 164.6,490.3 164.6,490.4 166.1,490.4 166.1,490.5 167.7,490.5 167.7,490.6 169.2,490.6 169.2,490.7 170.8,490.7 170.8,490.8 172.3,490.8 172.3,490.9 173.9,490.9 173.9,490.9 175.6,490.9 175.6,490.9 177.2,490.9 177.2,491.0 178.9,491.0 178.9,491.0 180.5,491.0 180.5,491.0 182.2,491.0 182.2,491.0 183.8,491.0 183.8,491.1 185.4,491.1 185.4,491.1 187.1,491.1 187.1,491.1 188.7,491.1 188.7,491.1 190.4,491.1 190.4,491.2 192.0,491.2 192.0,491.2 193.6,491.2 193.6,491.3 195.1,491.3 195.1,491.3 196.7,491.3 196.7,491.4 198.3,491.4 198.3,491.5 199.8,491.5 199.8,491.6 201.4,491.6 201.4,491.6 202.9,491.6 202.9,491.7 204.5,491.7 204.5,491.8 206.1,491.8 206.1,491.9 207.6,491.9 207.6,491.9 209.2,491.9 209.2,492.0 210.8,492.0 210.8,492.1 212.3,492.1 212.3,492.3 213.9,492.3 213.9,492.4 215.5,492.4 215.5,492.5 217.0,492.5 217.0,492.7 218.6,492.7 218.6,492.8" fill="none" stroke="#0a0a14" stroke-width="1.3" stroke-linejoin="miter"/>
<line x1="57.5" y1="446.2" x2="218.6" y2="446.2" stroke="#1a1010" stroke-width="1.1"/>
<line x1="218.6" y1="492.4" x2="218.6" y2="542.0" stroke="#111" stroke-width="1.2"/>
<text x="87.0" y="463.3" font-size="8.0" text-anchor="middle" textLength="20.8" lengthAdjust="spacingAndGlyphs" fill="#fff0f0">Death</text>
<text x="72.1" y="476.8" font-size="8.0" text-anchor="middle" textLength="6.6" lengthAdjust="spacingAndGlyphs" fill="#eef6ff">IS</text>
<text x="93.9" y="507.9" font-size="8.0" text-anchor="middle" textLength="39.8" lengthAdjust="spacingAndGlyphs" fill="#111">Alive, No IS</text>
<line x1="57.0" y1="445.7" x2="57.0" y2="542.6" stroke="#111" stroke-width="1.3"/>
<line x1="54.2" y1="542.0" x2="57.0" y2="542.0" stroke="#111" stroke-width="1.0"/>
<text x="50.9" y="545.0" font-size="8.6" text-anchor="end" textLength="4.16" lengthAdjust="spacingAndGlyphs" fill="#111">0</text>
<line x1="54.2" y1="522.84" x2="57.0" y2="522.84" stroke="#111" stroke-width="1.0"/>
<text x="50.9" y="525.84" font-size="8.6" text-anchor="end" textLength="10.4" lengthAdjust="spacingAndGlyphs" fill="#111">0.2</text>
<line x1="54.2" y1="503.68" x2="57.0" y2="503.68" stroke="#111" stroke-width="1.0"/>
<text x="50.9" y="506.68" font-size="8.6" text-anchor="end" textLength="10.4" lengthAdjust="spacingAndGlyphs" fill="#111">0.4</text>
<line x1="54.2" y1="484.52" x2="57.0" y2="484.52" stroke="#111" stroke-width="1.0"/>
<text x="50.9" y="487.52" font-size="8.6" text-anchor="end" textLength="10.4" lengthAdjust="spacingAndGlyphs" fill="#111">0.6</text>
<line x1="54.2" y1="465.36" x2="57.0" y2="465.36" stroke="#111" stroke-width="1.0"/>
<text x="50.9" y="468.36" font-size="8.6" text-anchor="end" textLength="10.4" lengthAdjust="spacingAndGlyphs" fill="#111">0.8</text>
<line x1="54.2" y1="446.2" x2="57.0" y2="446.2" stroke="#111" stroke-width="1.0"/>
<text x="50.9" y="449.2" font-size="8.6" text-anchor="end" textLength="10.4" lengthAdjust="spacingAndGlyphs" fill="#111">1.0</text>
<line x1="57.0" y1="542.0" x2="219.2" y2="542.0" stroke="#111" stroke-width="1.3"/>
<line x1="57.6" y1="542.0" x2="57.6" y2="544.8" stroke="#111" stroke-width="1.0"/>
<text x="57.6" y="554.8" font-size="8.6" text-anchor="middle" textLength="4.16" lengthAdjust="spacingAndGlyphs" fill="#111">0</text>
<line x1="87.7" y1="542.0" x2="87.7" y2="544.8" stroke="#111" stroke-width="1.0"/>
<text x="87.7" y="554.8" font-size="8.6" text-anchor="middle" textLength="8.32" lengthAdjust="spacingAndGlyphs" fill="#111">10</text>
<line x1="117.8" y1="542.0" x2="117.8" y2="544.8" stroke="#111" stroke-width="1.0"/>
<text x="117.8" y="554.8" font-size="8.6" text-anchor="middle" textLength="8.32" lengthAdjust="spacingAndGlyphs" fill="#111">20</text>
<line x1="147.9" y1="542.0" x2="147.9" y2="544.8" stroke="#111" stroke-width="1.0"/>
<text x="147.9" y="554.8" font-size="8.6" text-anchor="middle" textLength="8.32" lengthAdjust="spacingAndGlyphs" fill="#111">30</text>
<line x1="178.0" y1="542.0" x2="178.0" y2="544.8" stroke="#111" stroke-width="1.0"/>
<text x="178.0" y="554.8" font-size="8.6" text-anchor="middle" textLength="8.32" lengthAdjust="spacingAndGlyphs" fill="#111">40</text>
<line x1="208.1" y1="542.0" x2="208.1" y2="544.8" stroke="#111" stroke-width="1.0"/>
<text x="208.1" y="554.8" font-size="8.6" text-anchor="middle" textLength="8.32" lengthAdjust="spacingAndGlyphs" fill="#111">50</text>
<text x="137.65" y="567.8" font-size="10.0" text-anchor="middle" textLength="108.7" lengthAdjust="spacingAndGlyphs" fill="#111">Months post transplantation</text>
<text x="35.1" y="493.3" font-size="10.0" text-anchor="middle" textLength="41" lengthAdjust="spacingAndGlyphs" transform="rotate(-90 35.1 493.3)" fill="#111">Probability</text>
<text x="338.2" y="441.1" font-size="9.7" text-anchor="middle" font-weight="bold" textLength="51.3" lengthAdjust="spacingAndGlyphs" fill="#111">BuFlu MRD</text>
<path d="M263.8,446.2 L418.6,446.2 L418.6,484.1 L418.6,484.1 L365.5,484.1 L365.5,479.4 L295.8,479.4 L295.8,478.76666666666665 L294.2,478.76666666666665 L294.2,478.1333333333333 L292.6,478.1333333333333 L292.6,477.5 L291.0,477.5 L291.0,476.5 L289.5,476.5 L289.5,475.5 L288.0,475.5 L288.0,474.4 L286.275,474.4 L286.275,473.3 L284.55,473.3 L284.55,472.20000000000005 L282.82500000000005,472.20000000000005 L282.82500000000005,471.1 L281.1,471.1 L281.1,469.40000000000003 L279.40000000000003,469.40000000000003 L279.40000000000003,467.7 L277.7,467.7 L277.7,466 L276.0,466.0 L276.0,464.26666666666665 L274.26666666666665,464.26666666666665 L274.26666666666665,462.53333333333336 L272.53333333333336,462.53333333333336 L272.53333333333336,460.8 L270.8,460.8 L270.8,458.6 L269.05,458.6 L269.05,456.4 L267.3,456.4 L267.3,454.25 L266.0,454.25 L266.0,452.1 L264.7,452.1 L264.7,449.35 L264.25,449.35 L264.25,446.6 L263.8,446.6 Z" fill="#a8002c"/>
<path d="M259.5,446.6 L260.06666666666666,446.6 L260.06666666666666,449.0 L260.6333333333333,449.0 L260.6333333333333,451.40000000000003 L261.2,451.40000000000003 L261.2,453.8 L261.56,453.8 L261.56,456.24 L261.92,456.24 L261.92,458.68 L262.28,458.68 L262.28,461.12 L262.64,461.12 L262.64,463.56 L263.0,463.56 L263.0,466.0 L263.37142857142857,466 L263.37142857142857,468.4714285714286 L263.74285714285713,468.4714285714286 L263.74285714285713,470.9428571428571 L264.1142857142857,470.9428571428571 L264.1142857142857,473.4142857142857 L264.4857142857143,473.4142857142857 L264.4857142857143,475.8857142857143 L264.8571428571429,475.8857142857143 L264.8571428571429,478.3571428571429 L265.22857142857146,478.3571428571429 L265.22857142857146,480.8285714285714 L265.6,480.8285714285714 L265.6,483.3 L265.94,483.3 L265.94,485.88 L266.28000000000003,485.88 L266.28000000000003,488.46 L266.62,488.46 L266.62,491.04 L266.96000000000004,491.04 L266.96000000000004,493.62 L267.3,493.62 L267.3,496.2 L274.2,496.2 L276.0,496.2 L276.0,493.6 L277.25,493.6 L277.25,491.45000000000005 L278.5,491.45000000000005 L278.5,489.3 L279.6666666666667,489.3 L279.6666666666667,487.0 L280.8333333333333,487.0 L280.8333333333333,484.7 L282.0,484.7 L282.0,482.4 L283.3,482.4 L283.3,483.7 L284.6,483.7 L284.6,485.0 L286.3,485 L286.3,486.7 L288.0,486.7 L288.0,488.4 L289.75,488.4 L289.75,489.7 L291.5,489.7 L291.5,491.0 L303.6,491 L305.4,491 L305.4,489.8 L306.7,489.8 L306.7,489.1 L308.0,489.1 L308.0,488.4 L312.3,488.4 L314.0,488.4 L314.0,490.2 L364.6,490.2 L364.6,495 L418.6,495 L418.6,484.1 L365.5,484.1 L365.5,479.4 L295.8,479.4 L295.8,478.76666666666665 L294.2,478.76666666666665 L294.2,478.1333333333333 L292.6,478.1333333333333 L292.6,477.5 L291.0,477.5 L291.0,476.5 L289.5,476.5 L289.5,475.5 L288.0,475.5 L288.0,474.4 L286.275,474.4 L286.275,473.3 L284.55,473.3 L284.55,472.20000000000005 L282.82500000000005,472.20000000000005 L282.82500000000005,471.1 L281.1,471.1 L281.1,469.40000000000003 L279.40000000000003,469.40000000000003 L279.40000000000003,467.7 L277.7,467.7 L277.7,466 L276.0,466.0 L276.0,464.26666666666665 L274.26666666666665,464.26666666666665 L274.26666666666665,462.53333333333336 L272.53333333333336,462.53333333333336 L272.53333333333336,460.8 L270.8,460.8 L270.8,458.6 L269.05,458.6 L269.05,456.4 L267.3,456.4 L267.3,454.25 L266.0,454.25 L266.0,452.1 L264.7,452.1 L264.7,449.35 L264.25,449.35 L264.25,446.6 L263.8,446.6 Z" fill="#68a9dd"/>
<polyline points="263.8,446.6 264.2,446.6 264.2,449.4 264.7,449.4 264.7,452.1 266.0,452.1 266.0,454.2 267.3,454.2 267.3,456.4 269.1,456.4 269.1,458.6 270.8,458.6 270.8,460.8 272.5,460.8 272.5,462.5 274.3,462.5 274.3,464.3 276.0,464.3 276.0,466.0 277.7,466.0 277.7,467.7 279.4,467.7 279.4,469.4 281.1,469.4 281.1,471.1 282.8,471.1 282.8,472.2 284.6,472.2 284.6,473.3 286.3,473.3 286.3,474.4 288.0,474.4 288.0,475.5 289.5,475.5 289.5,476.5 291.0,476.5 291.0,477.5 292.6,477.5 292.6,478.1 294.2,478.1 294.2,478.8 295.8,478.8 295.8,479.4 365.5,479.4 365.5,484.1 418.6,484.1" fill="none" stroke="#1a1420" stroke-width="0.9" stroke-linejoin="miter"/>
<polyline points="259.5,446.6 260.1,446.6 260.1,449.0 260.6,449.0 260.6,451.4 261.2,451.4 261.2,453.8 261.6,453.8 261.6,456.2 261.9,456.2 261.9,458.7 262.3,458.7 262.3,461.1 262.6,461.1 262.6,463.6 263.0,463.6 263.0,466.0 263.4,466.0 263.4,468.5 263.7,468.5 263.7,470.9 264.1,470.9 264.1,473.4 264.5,473.4 264.5,475.9 264.9,475.9 264.9,478.4 265.2,478.4 265.2,480.8 265.6,480.8 265.6,483.3 265.9,483.3 265.9,485.9 266.3,485.9 266.3,488.5 266.6,488.5 266.6,491.0 267.0,491.0 267.0,493.6 267.3,493.6 267.3,496.2 274.2,496.2 276.0,496.2 276.0,493.6 277.2,493.6 277.2,491.5 278.5,491.5 278.5,489.3 279.7,489.3 279.7,487.0 280.8,487.0 280.8,484.7 282.0,484.7 282.0,482.4 283.3,482.4 283.3,483.7 284.6,483.7 284.6,485.0 286.3,485.0 286.3,486.7 288.0,486.7 288.0,488.4 289.8,488.4 289.8,489.7 291.5,489.7 291.5,491.0 303.6,491.0 305.4,491.0 305.4,489.8 306.7,489.8 306.7,489.1 308.0,489.1 308.0,488.4 312.3,488.4 314.0,488.4 314.0,490.2 364.6,490.2 364.6,495.0 418.6,495.0" fill="none" stroke="#0a0a14" stroke-width="1.3" stroke-linejoin="miter"/>
<line x1="257.9" y1="446.2" x2="418.6" y2="446.2" stroke="#1a1010" stroke-width="1.1"/>
<line x1="418.6" y1="484.1" x2="418.6" y2="542.0" stroke="#111" stroke-width="1.2"/>
<text x="293.65" y="463.3" font-size="8.0" text-anchor="middle" textLength="19.9" lengthAdjust="spacingAndGlyphs" fill="#fff0f0">Death</text>
<text x="273.6" y="480.9" font-size="8.0" text-anchor="middle" textLength="6.4" lengthAdjust="spacingAndGlyphs" fill="#eef6ff">IS</text>
<text x="300.15" y="508.2" font-size="8.0" text-anchor="middle" textLength="39.7" lengthAdjust="spacingAndGlyphs" fill="#111">Alive, No IS</text>
<line x1="257.4" y1="445.7" x2="257.4" y2="542.6" stroke="#111" stroke-width="1.3"/>
<line x1="254.59999999999997" y1="542.0" x2="257.4" y2="542.0" stroke="#111" stroke-width="1.0"/>
<text x="251.29999999999998" y="545.0" font-size="8.6" text-anchor="end" textLength="4.16" lengthAdjust="spacingAndGlyphs" fill="#111">0</text>
<line x1="254.59999999999997" y1="522.84" x2="257.4" y2="522.84" stroke="#111" stroke-width="1.0"/>
<text x="251.29999999999998" y="525.84" font-size="8.6" text-anchor="end" textLength="10.4" lengthAdjust="spacingAndGlyphs" fill="#111">0.2</text>
<line x1="254.59999999999997" y1="503.68" x2="257.4" y2="503.68" stroke="#111" stroke-width="1.0"/>
<text x="251.29999999999998" y="506.68" font-size="8.6" text-anchor="end" textLength="10.4" lengthAdjust="spacingAndGlyphs" fill="#111">0.4</text>
<line x1="254.59999999999997" y1="484.52" x2="257.4" y2="484.52" stroke="#111" stroke-width="1.0"/>
<text x="251.29999999999998" y="487.52" font-size="8.6" text-anchor="end" textLength="10.4" lengthAdjust="spacingAndGlyphs" fill="#111">0.6</text>
<line x1="254.59999999999997" y1="465.36" x2="257.4" y2="465.36" stroke="#111" stroke-width="1.0"/>
<text x="251.29999999999998" y="468.36" font-size="8.6" text-anchor="end" textLength="10.4" lengthAdjust="spacingAndGlyphs" fill="#111">0.8</text>
<line x1="254.59999999999997" y1="446.2" x2="257.4" y2="446.2" stroke="#111" stroke-width="1.0"/>
<text x="251.29999999999998" y="449.2" font-size="8.6" text-anchor="end" textLength="10.4" lengthAdjust="spacingAndGlyphs" fill="#111">1.0</text>
<line x1="257.4" y1="542.0" x2="419.20000000000005" y2="542.0" stroke="#111" stroke-width="1.3"/>
<line x1="257.7" y1="542.0" x2="257.7" y2="544.8" stroke="#111" stroke-width="1.0"/>
<text x="257.7" y="554.8" font-size="8.6" text-anchor="middle" textLength="4.16" lengthAdjust="spacingAndGlyphs" fill="#111">0</text>
<line x1="288.0" y1="542.0" x2="288.0" y2="544.8" stroke="#111" stroke-width="1.0"/>
<text x="288.0" y="554.8" font-size="8.6" text-anchor="middle" textLength="8.32" lengthAdjust="spacingAndGlyphs" fill="#111">10</text>
<line x1="318.29999999999995" y1="542.0" x2="318.29999999999995" y2="544.8" stroke="#111" stroke-width="1.0"/>
<text x="318.29999999999995" y="554.8" font-size="8.6" text-anchor="middle" textLength="8.32" lengthAdjust="spacingAndGlyphs" fill="#111">20</text>
<line x1="348.59999999999997" y1="542.0" x2="348.59999999999997" y2="544.8" stroke="#111" stroke-width="1.0"/>
<text x="348.59999999999997" y="554.8" font-size="8.6" text-anchor="middle" textLength="8.32" lengthAdjust="spacingAndGlyphs" fill="#111">30</text>
<line x1="378.9" y1="542.0" x2="378.9" y2="544.8" stroke="#111" stroke-width="1.0"/>
<text x="378.9" y="554.8" font-size="8.6" text-anchor="middle" textLength="8.32" lengthAdjust="spacingAndGlyphs" fill="#111">40</text>
<line x1="409.2" y1="542.0" x2="409.2" y2="544.8" stroke="#111" stroke-width="1.0"/>
<text x="409.2" y="554.8" font-size="8.6" text-anchor="middle" textLength="8.32" lengthAdjust="spacingAndGlyphs" fill="#111">50</text>
<text x="338.25" y="567.8" font-size="10.0" text-anchor="middle" textLength="108.5" lengthAdjust="spacingAndGlyphs" fill="#111">Months post transplantation</text>
<text x="235.49999999999997" y="493.3" font-size="10.0" text-anchor="middle" textLength="41" lengthAdjust="spacingAndGlyphs" transform="rotate(-90 235.49999999999997 493.3)" fill="#111">Probability</text>
<text x="138.1" y="587.0" font-size="9.7" text-anchor="middle" font-weight="bold" textLength="50" lengthAdjust="spacingAndGlyphs" fill="#111">BuCy MUD</text>
<path d="M59.8,591.8 L217.8,591.8 L217.8,646.4 L217.8,646.4 L217.8,645.4 L215.7,645.4 L215.7,645.18 L214.01999999999998,645.18 L214.01999999999998,644.9599999999999 L212.34,644.9599999999999 L212.34,644.74 L210.66,644.74 L210.66,644.52 L208.98000000000002,644.52 L208.98000000000002,644.3 L207.3,644.3 L207.3,644.1125 L205.7125,644.1125 L205.7125,643.925 L204.125,643.925 L204.125,643.7375 L202.5375,643.7375 L202.5375,643.55 L200.95,643.55 L200.95,643.3625 L199.3625,643.3625 L199.3625,643.175 L197.775,643.175 L197.775,642.9875 L196.1875,642.9875 L196.1875,642.8 L194.6,642.8 L194.6,642.7142857142857 L193.0857142857143,642.7142857142857 L193.0857142857143,642.6285714285714 L191.57142857142856,642.6285714285714 L191.57142857142856,642.5428571428571 L190.05714285714285,642.5428571428571 L190.05714285714285,642.4571428571429 L188.54285714285714,642.4571428571429 L188.54285714285714,642.3714285714286 L187.02857142857144,642.3714285714286 L187.02857142857144,642.2857142857143 L185.5142857142857,642.2857142857143 L185.5142857142857,642.2 L184.0,642.2 L184.0,641.1 L181.9,641.1 L181.9,640.9888888888889 L180.35555555555555,640.9888888888889 L180.35555555555555,640.8777777777779 L178.8111111111111,640.8777777777779 L178.8111111111111,640.7666666666667 L177.26666666666668,640.7666666666667 L177.26666666666668,640.6555555555556 L175.72222222222223,640.6555555555556 L175.72222222222223,640.5444444444445 L174.17777777777778,640.5444444444445 L174.17777777777778,640.4333333333334 L172.63333333333333,640.4333333333334 L172.63333333333333,640.3222222222222 L171.0888888888889,640.3222222222222 L171.0888888888889,640.2111111111111 L169.54444444444445,640.2111111111111 L169.54444444444445,640.1 L168.0,640.1 L168.0,639.5 L166.5,639.5 L166.5,638.9 L165.0,638.9 L165.0,638.8722222222221 L163.35555555555555,638.8722222222221 L163.35555555555555,638.8444444444444 L161.7111111111111,638.8444444444444 L161.7111111111111,638.8166666666666 L160.06666666666666,638.8166666666666 L160.06666666666666,638.7888888888889 L158.42222222222222,638.7888888888889 L158.42222222222222,638.7611111111111 L156.77777777777777,638.7611111111111 L156.77777777777777,638.7333333333333 L155.13333333333333,638.7333333333333 L155.13333333333333,638.7055555555555 L153.48888888888888,638.7055555555555 L153.48888888888888,638.6777777777778 L151.84444444444443,638.6777777777778 L151.84444444444443,638.65 L150.20000000000002,638.65 L150.20000000000002,638.6222222222221 L148.55555555555557,638.6222222222221 L148.55555555555557,638.5944444444444 L146.91111111111113,638.5944444444444 L146.91111111111113,638.5666666666666 L145.26666666666668,638.5666666666666 L145.26666666666668,638.5388888888889 L143.62222222222223,638.5388888888889 L143.62222222222223,638.5111111111111 L141.9777777777778,638.5111111111111 L141.9777777777778,638.4833333333333 L140.33333333333334,638.4833333333333 L140.33333333333334,638.4555555555555 L138.6888888888889,638.4555555555555 L138.6888888888889,638.4277777777778 L137.04444444444445,638.4277777777778 L137.04444444444445,638.4 L135.4,638.4 L135.4,637.5666666666666 L133.96666666666667,637.5666666666666 L133.96666666666667,636.7333333333333 L132.53333333333333,636.7333333333333 L132.53333333333333,635.9 L131.1,635.9 L131.1,635.3333333333334 L129.66666666666666,635.3333333333334 L129.66666666666666,634.7666666666667 L128.23333333333332,634.7666666666667 L128.23333333333332,634.2 L126.8,634.2 L126.8,634.0250000000001 L125.25,634.0250000000001 L125.25,633.85 L123.69999999999999,633.85 L123.69999999999999,633.675 L122.14999999999999,633.675 L122.14999999999999,633.5 L120.6,633.5 L115.2,633.2 L115.2,632.1500000000001 L113.30000000000001,632.1500000000001 L113.30000000000001,631.1 L111.4,631.1 L111.4,630.0666666666667 L109.86666666666667,630.0666666666667 L109.86666666666667,629.0333333333333 L108.33333333333333,629.0333333333333 L108.33333333333333,628 L106.8,628.0 L106.8,627.2333333333333 L105.26666666666667,627.2333333333333 L105.26666666666667,626.4666666666667 L103.73333333333333,626.4666666666667 L103.73333333333333,625.7 L102.2,625.7 L102.2,624.9333333333334 L100.63333333333334,624.9333333333334 L100.63333333333334,624.1666666666666 L99.06666666666666,624.1666666666666 L99.06666666666666,623.4 L97.5,623.4 L97.5,622.6333333333333 L95.96666666666667,622.6333333333333 L95.96666666666667,621.8666666666667 L94.43333333333334,621.8666666666667 L94.43333333333334,621.1 L92.9,621.1 L92.9,620.3333333333334 L91.36666666666667,620.3333333333334 L91.36666666666667,619.5666666666666 L89.83333333333333,619.5666666666666 L89.83333333333333,618.8 L88.3,618.8 L88.3,617.7666666666667 L86.76666666666667,617.7666666666667 L86.76666666666667,616.7333333333333 L85.23333333333333,616.7333333333333 L85.23333333333333,615.7 L83.7,615.7 L83.7,614.6666666666667 L82.16666666666667,614.6666666666667 L82.16666666666667,613.6333333333333 L80.63333333333333,613.6333333333333 L80.63333333333333,612.6 L79.1,612.6 L79.1,611.5666666666667 L77.56666666666666,611.5666666666667 L77.56666666666666,610.5333333333333 L76.03333333333333,610.5333333333333 L76.03333333333333,609.5 L74.5,609.5 L74.5,608.0 L72.95,608.0 L72.95,606.5 L71.4,606.5 L71.4,605.35 L69.85,605.35 L69.85,604.2 L68.3,604.2 L68.3,602.6500000000001 L66.75,602.6500000000001 L66.75,601.1 L65.2,601.1 L65.2,599.1500000000001 L64.05,599.1500000000001 L64.05,597.2 L62.9,597.2 L62.9,594.75 L61.75,594.75 L61.75,592.3 L60.6,592.3 L60.6,591.8 L59.8,591.8 Z" fill="#a8002c"/>
<path d="M59.6,591.8 L59.800000000000004,591.8 L59.800000000000004,594.12 L60.0,594.12 L60.0,596.4399999999999 L60.2,596.4399999999999 L60.2,598.76 L60.4,598.76 L60.4,601.0799999999999 L60.6,601.0799999999999 L60.6,603.4 L60.86666666666667,603.4 L60.86666666666667,605.9666666666667 L61.13333333333333,605.9666666666667 L61.13333333333333,608.5333333333333 L61.400000000000006,608.5333333333333 L61.400000000000006,611.0999999999999 L61.66666666666667,611.0999999999999 L61.66666666666667,613.6666666666666 L61.93333333333334,613.6666666666666 L61.93333333333334,616.2333333333333 L62.2,616.2333333333333 L62.2,618.8 L62.45,618.8 L62.45,621.3666666666667 L62.7,621.3666666666667 L62.7,623.9333333333333 L62.95,623.9333333333333 L62.95,626.5 L63.2,626.5 L63.2,629.0666666666667 L63.45,629.0666666666667 L63.45,631.6333333333333 L63.7,631.6333333333333 L63.7,634.2 L63.92,634.2 L63.92,636.5 L64.14,636.5 L64.14,638.8000000000001 L64.36,638.8000000000001 L64.36,641.1 L64.58,641.1 L64.58,643.4000000000001 L64.8,643.4000000000001 L64.8,645.7 L66.8,645.7 L66.8,643.4 L68.3,643.4 L68.3,642.25 L69.8,642.25 L69.8,641.1 L71.4,641.1 L71.4,642.6 L73.7,642.6 L73.7,639.5 L76.0,639.5 L76.0,641.1 L78.3,641.1 L78.3,638.8 L80.6,638.8 L80.6,637.2 L82.2,637.2 L82.2,639.5 L84.5,639.5 L84.5,636.5 L86.0,636.5 L86.0,635.7 L87.5,635.7 L87.5,634.9 L89.8,634.9 L89.8,637.2 L91.35,637.2 L91.35,637.05 L92.9,637.05 L92.9,636.9 L94.45,636.9 L94.45,636.15 L96.0,636.15 L96.0,635.4 L97.9,635.4 L97.9,634.8 L99.8,634.8 L99.8,634.2 L101.0,634.2 L101.0,633.4000000000001 L102.2,633.4000000000001 L102.2,632.6 L103.7,632.6 L103.7,633.75 L105.2,633.75 L105.2,634.9 L107.15,634.9 L107.15,636.45 L109.1,636.45 L109.1,638.0 L111.4,638 L111.4,636.5 L113.30000000000001,636.5 L113.30000000000001,635.05 L115.2,635.05 L115.2,633.6 L120.6,633.9 L122.14999999999999,633.9 L122.14999999999999,634.075 L123.69999999999999,634.075 L123.69999999999999,634.25 L125.25,634.25 L125.25,634.425 L126.8,634.425 L126.8,634.6 L128.23333333333332,634.6 L128.23333333333332,635.1666666666666 L129.66666666666666,635.1666666666666 L129.66666666666666,635.7333333333333 L131.1,635.7333333333333 L131.1,636.3 L132.53333333333333,636.3 L132.53333333333333,637.1333333333333 L133.96666666666667,637.1333333333333 L133.96666666666667,637.9666666666666 L135.4,637.9666666666666 L135.4,638.8 L137.04444444444445,638.8 L137.04444444444445,638.8277777777778 L138.6888888888889,638.8277777777778 L138.6888888888889,638.8555555555555 L140.33333333333334,638.8555555555555 L140.33333333333334,638.8833333333333 L141.9777777777778,638.8833333333333 L141.9777777777778,638.911111111111 L143.62222222222223,638.911111111111 L143.62222222222223,638.9388888888889 L145.26666666666668,638.9388888888889 L145.26666666666668,638.9666666666666 L146.91111111111113,638.9666666666666 L146.91111111111113,638.9944444444444 L148.55555555555557,638.9944444444444 L148.55555555555557,639.0222222222221 L150.20000000000002,639.0222222222221 L150.20000000000002,639.05 L151.84444444444443,639.05 L151.84444444444443,639.0777777777778 L153.48888888888888,639.0777777777778 L153.48888888888888,639.1055555555555 L155.13333333333333,639.1055555555555 L155.13333333333333,639.1333333333333 L156.77777777777777,639.1333333333333 L156.77777777777777,639.161111111111 L158.42222222222222,639.161111111111 L158.42222222222222,639.1888888888889 L160.06666666666666,639.1888888888889 L160.06666666666666,639.2166666666666 L161.7111111111111,639.2166666666666 L161.7111111111111,639.2444444444444 L163.35555555555555,639.2444444444444 L163.35555555555555,639.2722222222221 L165.0,639.2722222222221 L165.0,639.3 L166.5,639.3 L166.5,639.9 L168.0,639.9 L168.0,640.5 L169.54444444444445,640.5 L169.54444444444445,640.6111111111111 L171.0888888888889,640.6111111111111 L171.0888888888889,640.7222222222222 L172.63333333333333,640.7222222222222 L172.63333333333333,640.8333333333334 L174.17777777777778,640.8333333333334 L174.17777777777778,640.9444444444445 L175.72222222222223,640.9444444444445 L175.72222222222223,641.0555555555555 L177.26666666666668,641.0555555555555 L177.26666666666668,641.1666666666666 L178.8111111111111,641.1666666666666 L178.8111111111111,641.2777777777778 L180.35555555555555,641.2777777777778 L180.35555555555555,641.3888888888889 L181.9,641.3888888888889 L181.9,641.5 L184.0,641.5 L184.0,642.6 L185.5142857142857,642.6 L185.5142857142857,642.6857142857143 L187.02857142857144,642.6857142857143 L187.02857142857144,642.7714285714286 L188.54285714285714,642.7714285714286 L188.54285714285714,642.8571428571429 L190.05714285714285,642.8571428571429 L190.05714285714285,642.9428571428572 L191.57142857142856,642.9428571428572 L191.57142857142856,643.0285714285715 L193.0857142857143,643.0285714285715 L193.0857142857143,643.1142857142858 L194.6,643.1142857142858 L194.6,643.2 L196.1875,643.2 L196.1875,643.3875 L197.775,643.3875 L197.775,643.575 L199.3625,643.575 L199.3625,643.7625 L200.95,643.7625 L200.95,643.95 L202.5375,643.95 L202.5375,644.1375 L204.125,644.1375 L204.125,644.325 L205.7125,644.325 L205.7125,644.5125 L207.3,644.5125 L207.3,644.7 L208.98000000000002,644.7 L208.98000000000002,644.9200000000001 L210.66,644.9200000000001 L210.66,645.14 L212.34,645.14 L212.34,645.36 L214.01999999999998,645.36 L214.01999999999998,645.5799999999999 L215.7,645.5799999999999 L215.7,645.8 L217.8,645.8 L217.8,646.8 L217.8,646.4 L217.8,645.4 L215.7,645.4 L215.7,645.18 L214.01999999999998,645.18 L214.01999999999998,644.9599999999999 L212.34,644.9599999999999 L212.34,644.74 L210.66,644.74 L210.66,644.52 L208.98000000000002,644.52 L208.98000000000002,644.3 L207.3,644.3 L207.3,644.1125 L205.7125,644.1125 L205.7125,643.925 L204.125,643.925 L204.125,643.7375 L202.5375,643.7375 L202.5375,643.55 L200.95,643.55 L200.95,643.3625 L199.3625,643.3625 L199.3625,643.175 L197.775,643.175 L197.775,642.9875 L196.1875,642.9875 L196.1875,642.8 L194.6,642.8 L194.6,642.7142857142857 L193.0857142857143,642.7142857142857 L193.0857142857143,642.6285714285714 L191.57142857142856,642.6285714285714 L191.57142857142856,642.5428571428571 L190.05714285714285,642.5428571428571 L190.05714285714285,642.4571428571429 L188.54285714285714,642.4571428571429 L188.54285714285714,642.3714285714286 L187.02857142857144,642.3714285714286 L187.02857142857144,642.2857142857143 L185.5142857142857,642.2857142857143 L185.5142857142857,642.2 L184.0,642.2 L184.0,641.1 L181.9,641.1 L181.9,640.9888888888889 L180.35555555555555,640.9888888888889 L180.35555555555555,640.8777777777779 L178.8111111111111,640.8777777777779 L178.8111111111111,640.7666666666667 L177.26666666666668,640.7666666666667 L177.26666666666668,640.6555555555556 L175.72222222222223,640.6555555555556 L175.72222222222223,640.5444444444445 L174.17777777777778,640.5444444444445 L174.17777777777778,640.4333333333334 L172.63333333333333,640.4333333333334 L172.63333333333333,640.3222222222222 L171.0888888888889,640.3222222222222 L171.0888888888889,640.2111111111111 L169.54444444444445,640.2111111111111 L169.54444444444445,640.1 L168.0,640.1 L168.0,639.5 L166.5,639.5 L166.5,638.9 L165.0,638.9 L165.0,638.8722222222221 L163.35555555555555,638.8722222222221 L163.35555555555555,638.8444444444444 L161.7111111111111,638.8444444444444 L161.7111111111111,638.8166666666666 L160.06666666666666,638.8166666666666 L160.06666666666666,638.7888888888889 L158.42222222222222,638.7888888888889 L158.42222222222222,638.7611111111111 L156.77777777777777,638.7611111111111 L156.77777777777777,638.7333333333333 L155.13333333333333,638.7333333333333 L155.13333333333333,638.7055555555555 L153.48888888888888,638.7055555555555 L153.48888888888888,638.6777777777778 L151.84444444444443,638.6777777777778 L151.84444444444443,638.65 L150.20000000000002,638.65 L150.20000000000002,638.6222222222221 L148.55555555555557,638.6222222222221 L148.55555555555557,638.5944444444444 L146.91111111111113,638.5944444444444 L146.91111111111113,638.5666666666666 L145.26666666666668,638.5666666666666 L145.26666666666668,638.5388888888889 L143.62222222222223,638.5388888888889 L143.62222222222223,638.5111111111111 L141.9777777777778,638.5111111111111 L141.9777777777778,638.4833333333333 L140.33333333333334,638.4833333333333 L140.33333333333334,638.4555555555555 L138.6888888888889,638.4555555555555 L138.6888888888889,638.4277777777778 L137.04444444444445,638.4277777777778 L137.04444444444445,638.4 L135.4,638.4 L135.4,637.5666666666666 L133.96666666666667,637.5666666666666 L133.96666666666667,636.7333333333333 L132.53333333333333,636.7333333333333 L132.53333333333333,635.9 L131.1,635.9 L131.1,635.3333333333334 L129.66666666666666,635.3333333333334 L129.66666666666666,634.7666666666667 L128.23333333333332,634.7666666666667 L128.23333333333332,634.2 L126.8,634.2 L126.8,634.0250000000001 L125.25,634.0250000000001 L125.25,633.85 L123.69999999999999,633.85 L123.69999999999999,633.675 L122.14999999999999,633.675 L122.14999999999999,633.5 L120.6,633.5 L115.2,633.2 L115.2,632.1500000000001 L113.30000000000001,632.1500000000001 L113.30000000000001,631.1 L111.4,631.1 L111.4,630.0666666666667 L109.86666666666667,630.0666666666667 L109.86666666666667,629.0333333333333 L108.33333333333333,629.0333333333333 L108.33333333333333,628 L106.8,628.0 L106.8,627.2333333333333 L105.26666666666667,627.2333333333333 L105.26666666666667,626.4666666666667 L103.73333333333333,626.4666666666667 L103.73333333333333,625.7 L102.2,625.7 L102.2,624.9333333333334 L100.63333333333334,624.9333333333334 L100.63333333333334,624.1666666666666 L99.06666666666666,624.1666666666666 L99.06666666666666,623.4 L97.5,623.4 L97.5,622.6333333333333 L95.96666666666667,622.6333333333333 L95.96666666666667,621.8666666666667 L94.43333333333334,621.8666666666667 L94.43333333333334,621.1 L92.9,621.1 L92.9,620.3333333333334 L91.36666666666667,620.3333333333334 L91.36666666666667,619.5666666666666 L89.83333333333333,619.5666666666666 L89.83333333333333,618.8 L88.3,618.8 L88.3,617.7666666666667 L86.76666666666667,617.7666666666667 L86.76666666666667,616.7333333333333 L85.23333333333333,616.7333333333333 L85.23333333333333,615.7 L83.7,615.7 L83.7,614.6666666666667 L82.16666666666667,614.6666666666667 L82.16666666666667,613.6333333333333 L80.63333333333333,613.6333333333333 L80.63333333333333,612.6 L79.1,612.6 L79.1,611.5666666666667 L77.56666666666666,611.5666666666667 L77.56666666666666,610.5333333333333 L76.03333333333333,610.5333333333333 L76.03333333333333,609.5 L74.5,609.5 L74.5,608.0 L72.95,608.0 L72.95,606.5 L71.4,606.5 L71.4,605.35 L69.85,605.35 L69.85,604.2 L68.3,604.2 L68.3,602.6500000000001 L66.75,602.6500000000001 L66.75,601.1 L65.2,601.1 L65.2,599.1500000000001 L64.05,599.1500000000001 L64.05,597.2 L62.9,597.2 L62.9,594.75 L61.75,594.75 L61.75,592.3 L60.6,592.3 L60.6,591.8 L59.8,591.8 Z" fill="#68a9dd"/>
<polyline points="59.8,591.8 60.6,591.8 60.6,592.3 61.8,592.3 61.8,594.8 62.9,594.8 62.9,597.2 64.0,597.2 64.0,599.2 65.2,599.2 65.2,601.1 66.8,601.1 66.8,602.7 68.3,602.7 68.3,604.2 69.8,604.2 69.8,605.4 71.4,605.4 71.4,606.5 73.0,606.5 73.0,608.0 74.5,608.0 74.5,609.5 76.0,609.5 76.0,610.5 77.6,610.5 77.6,611.6 79.1,611.6 79.1,612.6 80.6,612.6 80.6,613.6 82.2,613.6 82.2,614.7 83.7,614.7 83.7,615.7 85.2,615.7 85.2,616.7 86.8,616.7 86.8,617.8 88.3,617.8 88.3,618.8 89.8,618.8 89.8,619.6 91.4,619.6 91.4,620.3 92.9,620.3 92.9,621.1 94.4,621.1 94.4,621.9 96.0,621.9 96.0,622.6 97.5,622.6 97.5,623.4 99.1,623.4 99.1,624.2 100.6,624.2 100.6,624.9 102.2,624.9 102.2,625.7 103.7,625.7 103.7,626.5 105.3,626.5 105.3,627.2 106.8,627.2 106.8,628.0 108.3,628.0 108.3,629.0 109.9,629.0 109.9,630.1 111.4,630.1 111.4,631.1 113.3,631.1 113.3,632.2 115.2,632.2 115.2,633.2 120.6,633.5 122.1,633.5 122.1,633.7 123.7,633.7 123.7,633.9 125.2,633.9 125.2,634.0 126.8,634.0 126.8,634.2 128.2,634.2 128.2,634.8 129.7,634.8 129.7,635.3 131.1,635.3 131.1,635.9 132.5,635.9 132.5,636.7 134.0,636.7 134.0,637.6 135.4,637.6 135.4,638.4 137.0,638.4 137.0,638.4 138.7,638.4 138.7,638.5 140.3,638.5 140.3,638.5 142.0,638.5 142.0,638.5 143.6,638.5 143.6,638.5 145.3,638.5 145.3,638.6 146.9,638.6 146.9,638.6 148.6,638.6 148.6,638.6 150.2,638.6 150.2,638.6 151.8,638.6 151.8,638.7 153.5,638.7 153.5,638.7 155.1,638.7 155.1,638.7 156.8,638.7 156.8,638.8 158.4,638.8 158.4,638.8 160.1,638.8 160.1,638.8 161.7,638.8 161.7,638.8 163.4,638.8 163.4,638.9 165.0,638.9 165.0,638.9 166.5,638.9 166.5,639.5 168.0,639.5 168.0,640.1 169.5,640.1 169.5,640.2 171.1,640.2 171.1,640.3 172.6,640.3 172.6,640.4 174.2,640.4 174.2,640.5 175.7,640.5 175.7,640.7 177.3,640.7 177.3,640.8 178.8,640.8 178.8,640.9 180.4,640.9 180.4,641.0 181.9,641.0 181.9,641.1 184.0,641.1 184.0,642.2 185.5,642.2 185.5,642.3 187.0,642.3 187.0,642.4 188.5,642.4 188.5,642.5 190.1,642.5 190.1,642.5 191.6,642.5 191.6,642.6 193.1,642.6 193.1,642.7 194.6,642.7 194.6,642.8 196.2,642.8 196.2,643.0 197.8,643.0 197.8,643.2 199.4,643.2 199.4,643.4 200.9,643.4 200.9,643.5 202.5,643.5 202.5,643.7 204.1,643.7 204.1,643.9 205.7,643.9 205.7,644.1 207.3,644.1 207.3,644.3 209.0,644.3 209.0,644.5 210.7,644.5 210.7,644.7 212.3,644.7 212.3,645.0 214.0,645.0 214.0,645.2 215.7,645.2 215.7,645.4 217.8,645.4 217.8,646.4" fill="none" stroke="#1a1420" stroke-width="0.9" stroke-linejoin="miter"/>
<polyline points="59.6,591.8 59.8,591.8 59.8,594.1 60.0,594.1 60.0,596.4 60.2,596.4 60.2,598.8 60.4,598.8 60.4,601.1 60.6,601.1 60.6,603.4 60.9,603.4 60.9,606.0 61.1,606.0 61.1,608.5 61.4,608.5 61.4,611.1 61.7,611.1 61.7,613.7 61.9,613.7 61.9,616.2 62.2,616.2 62.2,618.8 62.5,618.8 62.5,621.4 62.7,621.4 62.7,623.9 63.0,623.9 63.0,626.5 63.2,626.5 63.2,629.1 63.5,629.1 63.5,631.6 63.7,631.6 63.7,634.2 63.9,634.2 63.9,636.5 64.1,636.5 64.1,638.8 64.4,638.8 64.4,641.1 64.6,641.1 64.6,643.4 64.8,643.4 64.8,645.7 66.8,645.7 66.8,643.4 68.3,643.4 68.3,642.2 69.8,642.2 69.8,641.1 71.4,641.1 71.4,642.6 73.7,642.6 73.7,639.5 76.0,639.5 76.0,641.1 78.3,641.1 78.3,638.8 80.6,638.8 80.6,637.2 82.2,637.2 82.2,639.5 84.5,639.5 84.5,636.5 86.0,636.5 86.0,635.7 87.5,635.7 87.5,634.9 89.8,634.9 89.8,637.2 91.3,637.2 91.3,637.0 92.9,637.0 92.9,636.9 94.5,636.9 94.5,636.1 96.0,636.1 96.0,635.4 97.9,635.4 97.9,634.8 99.8,634.8 99.8,634.2 101.0,634.2 101.0,633.4 102.2,633.4 102.2,632.6 103.7,632.6 103.7,633.8 105.2,633.8 105.2,634.9 107.2,634.9 107.2,636.5 109.1,636.5 109.1,638.0 111.4,638.0 111.4,636.5 113.3,636.5 113.3,635.0 115.2,635.0 115.2,633.6 120.6,633.9 122.1,633.9 122.1,634.1 123.7,634.1 123.7,634.2 125.2,634.2 125.2,634.4 126.8,634.4 126.8,634.6 128.2,634.6 128.2,635.2 129.7,635.2 129.7,635.7 131.1,635.7 131.1,636.3 132.5,636.3 132.5,637.1 134.0,637.1 134.0,638.0 135.4,638.0 135.4,638.8 137.0,638.8 137.0,638.8 138.7,638.8 138.7,638.9 140.3,638.9 140.3,638.9 142.0,638.9 142.0,638.9 143.6,638.9 143.6,638.9 145.3,638.9 145.3,639.0 146.9,639.0 146.9,639.0 148.6,639.0 148.6,639.0 150.2,639.0 150.2,639.0 151.8,639.0 151.8,639.1 153.5,639.1 153.5,639.1 155.1,639.1 155.1,639.1 156.8,639.1 156.8,639.2 158.4,639.2 158.4,639.2 160.1,639.2 160.1,639.2 161.7,639.2 161.7,639.2 163.4,639.2 163.4,639.3 165.0,639.3 165.0,639.3 166.5,639.3 166.5,639.9 168.0,639.9 168.0,640.5 169.5,640.5 169.5,640.6 171.1,640.6 171.1,640.7 172.6,640.7 172.6,640.8 174.2,640.8 174.2,640.9 175.7,640.9 175.7,641.1 177.3,641.1 177.3,641.2 178.8,641.2 178.8,641.3 180.4,641.3 180.4,641.4 181.9,641.4 181.9,641.5 184.0,641.5 184.0,642.6 185.5,642.6 185.5,642.7 187.0,642.7 187.0,642.8 188.5,642.8 188.5,642.9 190.1,642.9 190.1,642.9 191.6,642.9 191.6,643.0 193.1,643.0 193.1,643.1 194.6,643.1 194.6,643.2 196.2,643.2 196.2,643.4 197.8,643.4 197.8,643.6 199.4,643.6 199.4,643.8 200.9,643.8 200.9,644.0 202.5,644.0 202.5,644.1 204.1,644.1 204.1,644.3 205.7,644.3 205.7,644.5 207.3,644.5 207.3,644.7 209.0,644.7 209.0,644.9 210.7,644.9 210.7,645.1 212.3,645.1 212.3,645.4 214.0,645.4 214.0,645.6 215.7,645.6 215.7,645.8 217.8,645.8 217.8,646.8" fill="none" stroke="#0a0a14" stroke-width="1.3" stroke-linejoin="miter"/>
<line x1="57.7" y1="591.8" x2="217.8" y2="591.8" stroke="#1a1010" stroke-width="1.1"/>
<line x1="217.8" y1="646.4" x2="217.8" y2="688.0" stroke="#111" stroke-width="1.2"/>
<text x="94.75" y="607.4" font-size="8.0" text-anchor="middle" textLength="20.3" lengthAdjust="spacingAndGlyphs" fill="#fff0f0">Death</text>
<text x="73.5" y="629.9" font-size="8.0" text-anchor="middle" textLength="7.4" lengthAdjust="spacingAndGlyphs" fill="#eef6ff">IS</text>
<text x="101.4" y="662.2" font-size="8.0" text-anchor="middle" textLength="39.8" lengthAdjust="spacingAndGlyphs" fill="#111">Alive, No IS</text>
<line x1="57.2" y1="591.3" x2="57.2" y2="688.6" stroke="#111" stroke-width="1.3"/>
<line x1="54.400000000000006" y1="688.0" x2="57.2" y2="688.0" stroke="#111" stroke-width="1.0"/>
<text x="51.1" y="691.0" font-size="8.6" text-anchor="end" textLength="4.16" lengthAdjust="spacingAndGlyphs" fill="#111">0</text>
<line x1="54.400000000000006" y1="668.76" x2="57.2" y2="668.76" stroke="#111" stroke-width="1.0"/>
<text x="51.1" y="671.76" font-size="8.6" text-anchor="end" textLength="10.4" lengthAdjust="spacingAndGlyphs" fill="#111">0.2</text>
<line x1="54.400000000000006" y1="649.52" x2="57.2" y2="649.52" stroke="#111" stroke-width="1.0"/>
<text x="51.1" y="652.52" font-size="8.6" text-anchor="end" textLength="10.4" lengthAdjust="spacingAndGlyphs" fill="#111">0.4</text>
<line x1="54.400000000000006" y1="630.28" x2="57.2" y2="630.28" stroke="#111" stroke-width="1.0"/>
<text x="51.1" y="633.28" font-size="8.6" text-anchor="end" textLength="10.4" lengthAdjust="spacingAndGlyphs" fill="#111">0.6</text>
<line x1="54.400000000000006" y1="611.04" x2="57.2" y2="611.04" stroke="#111" stroke-width="1.0"/>
<text x="51.1" y="614.04" font-size="8.6" text-anchor="end" textLength="10.4" lengthAdjust="spacingAndGlyphs" fill="#111">0.8</text>
<line x1="54.400000000000006" y1="591.8" x2="57.2" y2="591.8" stroke="#111" stroke-width="1.0"/>
<text x="51.1" y="594.8" font-size="8.6" text-anchor="end" textLength="10.4" lengthAdjust="spacingAndGlyphs" fill="#111">1.0</text>
<line x1="57.2" y1="688.0" x2="218.4" y2="688.0" stroke="#111" stroke-width="1.3"/>
<line x1="57.6" y1="688.0" x2="57.6" y2="690.8" stroke="#111" stroke-width="1.0"/>
<text x="57.6" y="700.8" font-size="8.6" text-anchor="middle" textLength="4.16" lengthAdjust="spacingAndGlyphs" fill="#111">0</text>
<line x1="87.7" y1="688.0" x2="87.7" y2="690.8" stroke="#111" stroke-width="1.0"/>
<text x="87.7" y="700.8" font-size="8.6" text-anchor="middle" textLength="8.32" lengthAdjust="spacingAndGlyphs" fill="#111">10</text>
<line x1="117.8" y1="688.0" x2="117.8" y2="690.8" stroke="#111" stroke-width="1.0"/>
<text x="117.8" y="700.8" font-size="8.6" text-anchor="middle" textLength="8.32" lengthAdjust="spacingAndGlyphs" fill="#111">20</text>
<line x1="147.9" y1="688.0" x2="147.9" y2="690.8" stroke="#111" stroke-width="1.0"/>
<text x="147.9" y="700.8" font-size="8.6" text-anchor="middle" textLength="8.32" lengthAdjust="spacingAndGlyphs" fill="#111">30</text>
<line x1="178.0" y1="688.0" x2="178.0" y2="690.8" stroke="#111" stroke-width="1.0"/>
<text x="178.0" y="700.8" font-size="8.6" text-anchor="middle" textLength="8.32" lengthAdjust="spacingAndGlyphs" fill="#111">40</text>
<line x1="208.1" y1="688.0" x2="208.1" y2="690.8" stroke="#111" stroke-width="1.0"/>
<text x="208.1" y="700.8" font-size="8.6" text-anchor="middle" textLength="8.32" lengthAdjust="spacingAndGlyphs" fill="#111">50</text>
<text x="137.35000000000002" y="713.8" font-size="10.0" text-anchor="middle" textLength="107.9" lengthAdjust="spacingAndGlyphs" fill="#111">Months post transplantation</text>
<text x="35.300000000000004" y="639.1" font-size="10.0" text-anchor="middle" textLength="41" lengthAdjust="spacingAndGlyphs" transform="rotate(-90 35.300000000000004 639.1)" fill="#111">Probability</text>
<text x="338.4" y="587.0" font-size="9.7" text-anchor="middle" font-weight="bold" textLength="51.3" lengthAdjust="spacingAndGlyphs" fill="#111">BuFlu MUD</text>
<path d="M262.1,591.4 L418.7,591.4 L418.7,639.4 L418.7,639.4 L409.2,639.4 L387.1,639.4 L387.1,629.1 L382.9,629.1 L382.9,622.5 L340,622.5 L340,619.6 L326.1,619.6 L326.1,619.1500000000001 L324.4,619.1500000000001 L324.4,618.7 L322.7,618.7 L315.7,618.7 L315.7,618.5666666666667 L313.98333333333335,618.5666666666667 L313.98333333333335,618.4333333333334 L312.26666666666665,618.4333333333334 L312.26666666666665,618.3 L310.54999999999995,618.3 L310.54999999999995,618.1666666666666 L308.8333333333333,618.1666666666666 L308.8333333333333,618.0333333333333 L307.1166666666667,618.0333333333333 L307.1166666666667,617.9 L305.4,617.9 L305.4,617.45 L303.65,617.45 L303.65,617.0 L301.9,617.0 L301.9,616.55 L300.15,616.55 L300.15,616.1 L298.4,616.1 L298.4,615.25 L296.67499999999995,615.25 L296.67499999999995,614.4000000000001 L294.95,614.4000000000001 L294.95,613.5500000000001 L293.225,613.5500000000001 L293.225,612.7 L291.5,612.7 L291.5,610.95 L289.75,610.95 L289.75,609.2 L288.0,609.2 L288.0,607.5 L286.3,607.5 L286.3,605.8 L284.6,605.8 L284.6,605.62 L282.88,605.62 L282.88,605.4399999999999 L281.16,605.4399999999999 L281.16,605.26 L279.44,605.26 L279.44,605.0799999999999 L277.72,605.0799999999999 L277.72,604.9 L276.0,604.9 L276.0,602.75 L274.25,602.75 L274.25,600.6 L272.5,600.6 L272.5,598.85 L270.75,598.85 L270.75,597.1 L269.0,597.1 L269.0,595.8 L267.3,595.8 L267.3,594.5 L265.6,594.5 L265.6,592.95 L263.85,592.95 L263.85,591.4 L262.1,591.4 Z" fill="#a8002c"/>
<path d="M258.7,591.4 L258.8,591.4 L258.8,593.85 L258.9,593.85 L258.9,596.3 L259.0,596.3 L259.0,598.75 L259.1,598.75 L259.1,601.2 L259.2,601.2 L259.2,603.65 L259.3,603.65 L259.3,606.1 L259.4,606.1 L259.4,608.55 L259.5,608.55 L259.5,611.0 L259.74285714285713,611 L259.74285714285713,613.4714285714285 L259.98571428571427,613.4714285714285 L259.98571428571427,615.9428571428572 L260.2285714285714,615.9428571428572 L260.2285714285714,618.4142857142857 L260.4714285714286,618.4142857142857 L260.4714285714286,620.8857142857142 L260.7142857142857,620.8857142857142 L260.7142857142857,623.3571428571428 L260.95714285714286,623.3571428571428 L260.95714285714286,625.8285714285714 L261.2,625.8285714285714 L261.2,628.3 L261.8,628.3 L261.8,631.1666666666666 L262.4,631.1666666666666 L262.4,634.0333333333333 L263.0,634.0333333333333 L263.0,636.9 L263.2833333333333,636.9 L263.2833333333333,639.2 L263.56666666666666,639.2 L263.56666666666666,641.5 L263.85,641.5 L263.85,643.8 L264.1333333333333,643.8 L264.1333333333333,646.1 L264.41666666666663,646.1 L264.41666666666663,648.4000000000001 L264.7,648.4000000000001 L264.7,650.7 L265.26666666666665,650.7 L265.26666666666665,648.4 L265.8333333333333,648.4 L265.8333333333333,646.1 L266.4,646.1 L266.4,643.8 L267.29999999999995,643.8 L267.29999999999995,641.65 L268.2,641.65 L268.2,639.5 L269.9,639.5 L269.9,643.0 L271.6,643 L271.6,640.4 L272.5,640.4 L272.5,642.55 L273.4,642.55 L273.4,644.7 L274.25,644.7 L274.25,642.55 L275.1,642.55 L275.1,640.4 L276.8,640.4 L276.8,637.8 L277.7,637.8 L277.7,634.3 L279.4,634.3 L281.1333333333333,634.3 L281.1333333333333,634.6 L282.8666666666667,634.6 L282.8666666666667,634.9 L284.6,634.9 L284.6,635.2 L286.3,635.2 L286.3,636.9 L288.05,636.9 L288.05,636.45 L289.8,636.45 L289.8,636.0 L291.55,636 L291.55,636.9 L293.3,636.9 L293.3,637.8 L295.0,637.8 L295.0,638.0666666666666 L296.7,638.0666666666666 L296.7,638.3333333333334 L298.4,638.3333333333334 L298.4,638.6 L300.15,638.6 L300.15,637.75 L301.9,637.75 L301.9,636.9 L319.2,636.9 L320.95,636.9 L320.95,637.75 L322.7,637.75 L322.7,638.6 L327.9,638.6 L329.6,638.6 L329.6,637.75 L331.3,637.75 L331.3,636.9 L345,637 L346.0,637 L346.0,636.2 L360.8,636.2 L361.20000000000005,636.2 L361.20000000000005,638.45 L361.6,638.45 L361.6,640.7 L362.05,640.7 L362.05,638.45 L362.5,638.45 L362.5,636.2 L368.3,636.2 L368.3,633.7 L371.1,633.7 L371.1,638.9 L383.3,638.9 L383.3,646.7 L387.1,646.7 L387.1,656.2 L409.2,656.2 L409.2,639.4 L418.7,639.4 L409.2,639.4 L387.1,639.4 L387.1,629.1 L382.9,629.1 L382.9,622.5 L340,622.5 L340,619.6 L326.1,619.6 L326.1,619.1500000000001 L324.4,619.1500000000001 L324.4,618.7 L322.7,618.7 L315.7,618.7 L315.7,618.5666666666667 L313.98333333333335,618.5666666666667 L313.98333333333335,618.4333333333334 L312.26666666666665,618.4333333333334 L312.26666666666665,618.3 L310.54999999999995,618.3 L310.54999999999995,618.1666666666666 L308.8333333333333,618.1666666666666 L308.8333333333333,618.0333333333333 L307.1166666666667,618.0333333333333 L307.1166666666667,617.9 L305.4,617.9 L305.4,617.45 L303.65,617.45 L303.65,617.0 L301.9,617.0 L301.9,616.55 L300.15,616.55 L300.15,616.1 L298.4,616.1 L298.4,615.25 L296.67499999999995,615.25 L296.67499999999995,614.4000000000001 L294.95,614.4000000000001 L294.95,613.5500000000001 L293.225,613.5500000000001 L293.225,612.7 L291.5,612.7 L291.5,610.95 L289.75,610.95 L289.75,609.2 L288.0,609.2 L288.0,607.5 L286.3,607.5 L286.3,605.8 L284.6,605.8 L284.6,605.62 L282.88,605.62 L282.88,605.4399999999999 L281.16,605.4399999999999 L281.16,605.26 L279.44,605.26 L279.44,605.0799999999999 L277.72,605.0799999999999 L277.72,604.9 L276.0,604.9 L276.0,602.75 L274.25,602.75 L274.25,600.6 L272.5,600.6 L272.5,598.85 L270.75,598.85 L270.75,597.1 L269.0,597.1 L269.0,595.8 L267.3,595.8 L267.3,594.5 L265.6,594.5 L265.6,592.95 L263.85,592.95 L263.85,591.4 L262.1,591.4 Z" fill="#68a9dd"/>
<polyline points="262.1,591.4 263.9,591.4 263.9,593.0 265.6,593.0 265.6,594.5 267.3,594.5 267.3,595.8 269.0,595.8 269.0,597.1 270.8,597.1 270.8,598.9 272.5,598.9 272.5,600.6 274.2,600.6 274.2,602.8 276.0,602.8 276.0,604.9 277.7,604.9 277.7,605.1 279.4,605.1 279.4,605.3 281.2,605.3 281.2,605.4 282.9,605.4 282.9,605.6 284.6,605.6 284.6,605.8 286.3,605.8 286.3,607.5 288.0,607.5 288.0,609.2 289.8,609.2 289.8,611.0 291.5,611.0 291.5,612.7 293.2,612.7 293.2,613.6 294.9,613.6 294.9,614.4 296.7,614.4 296.7,615.2 298.4,615.2 298.4,616.1 300.1,616.1 300.1,616.5 301.9,616.5 301.9,617.0 303.6,617.0 303.6,617.5 305.4,617.5 305.4,617.9 307.1,617.9 307.1,618.0 308.8,618.0 308.8,618.2 310.5,618.2 310.5,618.3 312.3,618.3 312.3,618.4 314.0,618.4 314.0,618.6 315.7,618.6 315.7,618.7 322.7,618.7 324.4,618.7 324.4,619.2 326.1,619.2 326.1,619.6 340.0,619.6 340.0,622.5 382.9,622.5 382.9,629.1 387.1,629.1 387.1,639.4 409.2,639.4" fill="none" stroke="#1a1420" stroke-width="0.9" stroke-linejoin="miter"/>
<polyline points="258.7,591.4 258.8,591.4 258.8,593.9 258.9,593.9 258.9,596.3 259.0,596.3 259.0,598.8 259.1,598.8 259.1,601.2 259.2,601.2 259.2,603.6 259.3,603.6 259.3,606.1 259.4,606.1 259.4,608.5 259.5,608.5 259.5,611.0 259.7,611.0 259.7,613.5 260.0,613.5 260.0,615.9 260.2,615.9 260.2,618.4 260.5,618.4 260.5,620.9 260.7,620.9 260.7,623.4 261.0,623.4 261.0,625.8 261.2,625.8 261.2,628.3 261.8,628.3 261.8,631.2 262.4,631.2 262.4,634.0 263.0,634.0 263.0,636.9 263.3,636.9 263.3,639.2 263.6,639.2 263.6,641.5 263.9,641.5 263.9,643.8 264.1,643.8 264.1,646.1 264.4,646.1 264.4,648.4 264.7,648.4 264.7,650.7 265.3,650.7 265.3,648.4 265.8,648.4 265.8,646.1 266.4,646.1 266.4,643.8 267.3,643.8 267.3,641.6 268.2,641.6 268.2,639.5 269.9,639.5 269.9,643.0 271.6,643.0 271.6,640.4 272.5,640.4 272.5,642.5 273.4,642.5 273.4,644.7 274.2,644.7 274.2,642.5 275.1,642.5 275.1,640.4 276.8,640.4 276.8,637.8 277.7,637.8 277.7,634.3 279.4,634.3 281.1,634.3 281.1,634.6 282.9,634.6 282.9,634.9 284.6,634.9 284.6,635.2 286.3,635.2 286.3,636.9 288.1,636.9 288.1,636.5 289.8,636.5 289.8,636.0 291.6,636.0 291.6,636.9 293.3,636.9 293.3,637.8 295.0,637.8 295.0,638.1 296.7,638.1 296.7,638.3 298.4,638.3 298.4,638.6 300.1,638.6 300.1,637.8 301.9,637.8 301.9,636.9 319.2,636.9 320.9,636.9 320.9,637.8 322.7,637.8 322.7,638.6 327.9,638.6 329.6,638.6 329.6,637.8 331.3,637.8 331.3,636.9 345.0,637.0 346.0,637.0 346.0,636.2 360.8,636.2 361.2,636.2 361.2,638.5 361.6,638.5 361.6,640.7 362.1,640.7 362.1,638.5 362.5,638.5 362.5,636.2 368.3,636.2 368.3,633.7 371.1,633.7 371.1,638.9 383.3,638.9 383.3,646.7 387.1,646.7 387.1,656.2 409.2,656.2 409.2,639.4" fill="none" stroke="#0a0a14" stroke-width="1.3" stroke-linejoin="miter"/>
<line x1="258.2" y1="591.4" x2="418.7" y2="591.4" stroke="#1a1010" stroke-width="1.1"/>
<line x1="418.7" y1="639.4" x2="418.7" y2="687.0" stroke="#111" stroke-width="1.2"/>
<text x="300.79999999999995" y="607.4" font-size="8.0" text-anchor="middle" textLength="20.2" lengthAdjust="spacingAndGlyphs" fill="#fff0f0">Death</text>
<text x="273.54999999999995" y="623.8" font-size="8.0" text-anchor="middle" textLength="7.3" lengthAdjust="spacingAndGlyphs" fill="#eef6ff">IS</text>
<text x="307.95" y="661.5" font-size="8.0" text-anchor="middle" textLength="39.9" lengthAdjust="spacingAndGlyphs" fill="#111">Alive, No IS</text>
<line x1="257.7" y1="590.9" x2="257.7" y2="687.6" stroke="#111" stroke-width="1.3"/>
<line x1="254.89999999999998" y1="687.0" x2="257.7" y2="687.0" stroke="#111" stroke-width="1.0"/>
<text x="251.6" y="690.0" font-size="8.6" text-anchor="end" textLength="4.16" lengthAdjust="spacingAndGlyphs" fill="#111">0</text>
<line x1="254.89999999999998" y1="667.88" x2="257.7" y2="667.88" stroke="#111" stroke-width="1.0"/>
<text x="251.6" y="670.88" font-size="8.6" text-anchor="end" textLength="10.4" lengthAdjust="spacingAndGlyphs" fill="#111">0.2</text>
<line x1="254.89999999999998" y1="648.76" x2="257.7" y2="648.76" stroke="#111" stroke-width="1.0"/>
<text x="251.6" y="651.76" font-size="8.6" text-anchor="end" textLength="10.4" lengthAdjust="spacingAndGlyphs" fill="#111">0.4</text>
<line x1="254.89999999999998" y1="629.64" x2="257.7" y2="629.64" stroke="#111" stroke-width="1.0"/>
<text x="251.6" y="632.64" font-size="8.6" text-anchor="end" textLength="10.4" lengthAdjust="spacingAndGlyphs" fill="#111">0.6</text>
<line x1="254.89999999999998" y1="610.52" x2="257.7" y2="610.52" stroke="#111" stroke-width="1.0"/>
<text x="251.6" y="613.52" font-size="8.6" text-anchor="end" textLength="10.4" lengthAdjust="spacingAndGlyphs" fill="#111">0.8</text>
<line x1="254.89999999999998" y1="591.4" x2="257.7" y2="591.4" stroke="#111" stroke-width="1.0"/>
<text x="251.6" y="594.4" font-size="8.6" text-anchor="end" textLength="10.4" lengthAdjust="spacingAndGlyphs" fill="#111">1.0</text>
<line x1="257.7" y1="687.0" x2="419.3" y2="687.0" stroke="#111" stroke-width="1.3"/>
<line x1="257.8" y1="687.0" x2="257.8" y2="689.8" stroke="#111" stroke-width="1.0"/>
<text x="257.8" y="699.8" font-size="8.6" text-anchor="middle" textLength="4.16" lengthAdjust="spacingAndGlyphs" fill="#111">0</text>
<line x1="288.1" y1="687.0" x2="288.1" y2="689.8" stroke="#111" stroke-width="1.0"/>
<text x="288.1" y="699.8" font-size="8.6" text-anchor="middle" textLength="8.32" lengthAdjust="spacingAndGlyphs" fill="#111">10</text>
<line x1="318.4" y1="687.0" x2="318.4" y2="689.8" stroke="#111" stroke-width="1.0"/>
<text x="318.4" y="699.8" font-size="8.6" text-anchor="middle" textLength="8.32" lengthAdjust="spacingAndGlyphs" fill="#111">20</text>
<line x1="348.7" y1="687.0" x2="348.7" y2="689.8" stroke="#111" stroke-width="1.0"/>
<text x="348.7" y="699.8" font-size="8.6" text-anchor="middle" textLength="8.32" lengthAdjust="spacingAndGlyphs" fill="#111">30</text>
<line x1="379.0" y1="687.0" x2="379.0" y2="689.8" stroke="#111" stroke-width="1.0"/>
<text x="379.0" y="699.8" font-size="8.6" text-anchor="middle" textLength="8.32" lengthAdjust="spacingAndGlyphs" fill="#111">40</text>
<line x1="409.3" y1="687.0" x2="409.3" y2="689.8" stroke="#111" stroke-width="1.0"/>
<text x="409.3" y="699.8" font-size="8.6" text-anchor="middle" textLength="8.32" lengthAdjust="spacingAndGlyphs" fill="#111">50</text>
<text x="338.25" y="712.8" font-size="10.0" text-anchor="middle" textLength="108.5" lengthAdjust="spacingAndGlyphs" fill="#111">Months post transplantation</text>
<text x="235.79999999999998" y="638.4000000000001" font-size="10.0" text-anchor="middle" textLength="41" lengthAdjust="spacingAndGlyphs" transform="rotate(-90 235.79999999999998 638.4000000000001)" fill="#111">Probability</text>
<rect x="0" y="0" width="520" height="1" fill="#000"/>
<rect x="0" y="1" width="520" height="1" fill="#000" opacity="0.2"/>
<rect x="0" y="0" width="1" height="723" fill="#000"/>
<rect x="1" y="0" width="1" height="723" fill="#000" opacity="0.45"/>
<rect x="519" y="0" width="1" height="723" fill="#000"/>
<rect x="518" y="0" width="1" height="723" fill="#000" opacity="0.55"/>
<rect x="0" y="722" width="520" height="1" fill="#000"/>
<rect x="0" y="721" width="520" height="1" fill="#000" opacity="0.6"/>
</svg>
</body></html>
